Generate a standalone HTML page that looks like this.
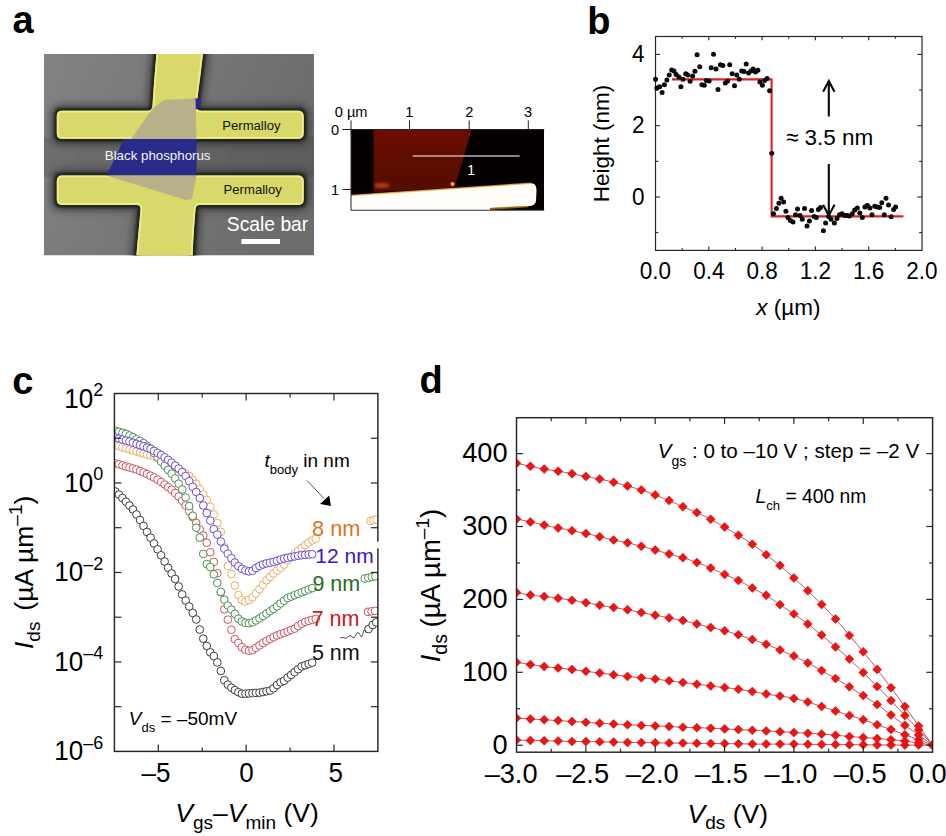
<!DOCTYPE html>
<html><head><meta charset="utf-8"><style>
html,body{margin:0;padding:0;background:#fff;width:946px;height:836px;overflow:hidden}
svg{display:block;font-family:"Liberation Sans", sans-serif}
</style></head><body>
<svg width="946" height="836" viewBox="0 0 946 836">
<rect width="946" height="836" fill="#fff"/>
<text x="12.50" y="33.00" font-size="38" text-anchor="start" fill="#000" font-weight="bold" >a</text>
<text x="587.30" y="33.50" font-size="38" text-anchor="start" fill="#000" font-weight="bold" >b</text>
<text x="12.30" y="393.50" font-size="38" text-anchor="start" fill="#000" font-weight="bold" >c</text>
<text x="419.50" y="393.20" font-size="38" text-anchor="start" fill="#000" font-weight="bold" >d</text>
<g id="sem">
<defs><clipPath id="semclip"><rect x="44" y="54" width="270" height="201.5"/></clipPath><filter id="soft" x="-5%" y="-5%" width="110%" height="110%"><feGaussianBlur stdDeviation="0.7"/></filter><filter id="soft2" x="-5%" y="-5%" width="110%" height="110%"><feGaussianBlur stdDeviation="1.6"/></filter><linearGradient id="bgg" x1="0" y1="0" x2="1" y2="0.3"><stop offset="0" stop-color="#838383"/><stop offset="1" stop-color="#6c6c6c"/></linearGradient></defs>
<g clip-path="url(#semclip)">
<rect x="44" y="54" width="270" height="201.5" fill="url(#bgg)"/>
<linearGradient id="gapg" x1="0" y1="0" x2="1" y2="0"><stop offset="0" stop-color="#6e6e6e"/><stop offset="0.5" stop-color="#646464"/><stop offset="1" stop-color="#5c5c5c"/></linearGradient>
<rect x="40" y="137" width="280" height="40" fill="url(#gapg)" filter="url(#soft2)"/>
<clipPath id="elclip"><path d="M157,48 L203.5,48 C201.5,70 198,92 196.5,107 Q197,110.8 201,110.8 L298,110.8 Q303.7,110.8 303.7,116.5 L303.7,133 Q303.7,138.8 298,138.8 L62,138.8 Q56.8,138.8 56.8,133.5 L56.8,116 Q56.8,110.8 62,110.8 L148,110.8 Q152,110.8 152.5,106 C153.5,90 155,70 157,48 Z"/><path d="M62,175.5 L298,175.5 Q303.7,175.5 303.7,181 L303.7,199.5 Q303.7,204.9 298,204.9 L199,204.9 Q196,204.9 195.5,209 C194,228 193,242 192.5,262 L136,262 C137.5,242 139,228 140.5,210 Q141,204.9 137,204.9 L62,204.9 Q56.8,204.9 56.8,199.5 L56.8,181 Q56.8,175.5 62,175.5 Z"/></clipPath>
<filter id="haloF" x="-10%" y="-10%" width="120%" height="120%"><feGaussianBlur stdDeviation="1.0"/></filter>
<filter id="haloW" x="-10%" y="-10%" width="120%" height="120%"><feGaussianBlur stdDeviation="3"/></filter>
<g filter="url(#haloW)" fill="none" stroke="#303030" stroke-width="14" stroke-linejoin="round" opacity="0.55">
<path d="M157,48 L203.5,48 C201.5,70 198,92 196.5,107 Q197,110.8 201,110.8 L298,110.8 Q303.7,110.8 303.7,116.5 L303.7,133 Q303.7,138.8 298,138.8 L62,138.8 Q56.8,138.8 56.8,133.5 L56.8,116 Q56.8,110.8 62,110.8 L148,110.8 Q152,110.8 152.5,106 C153.5,90 155,70 157,48 Z"/><path d="M62,175.5 L298,175.5 Q303.7,175.5 303.7,181 L303.7,199.5 Q303.7,204.9 298,204.9 L199,204.9 Q196,204.9 195.5,209 C194,228 193,242 192.5,262 L136,262 C137.5,242 139,228 140.5,210 Q141,204.9 137,204.9 L62,204.9 Q56.8,204.9 56.8,199.5 L56.8,181 Q56.8,175.5 62,175.5 Z"/>
</g>
<g filter="url(#haloF)" fill="none" stroke="#242424" stroke-width="6" stroke-linejoin="round">
<path d="M157,48 L203.5,48 C201.5,70 198,92 196.5,107 Q197,110.8 201,110.8 L298,110.8 Q303.7,110.8 303.7,116.5 L303.7,133 Q303.7,138.8 298,138.8 L62,138.8 Q56.8,138.8 56.8,133.5 L56.8,116 Q56.8,110.8 62,110.8 L148,110.8 Q152,110.8 152.5,106 C153.5,90 155,70 157,48 Z"/><path d="M62,175.5 L298,175.5 Q303.7,175.5 303.7,181 L303.7,199.5 Q303.7,204.9 298,204.9 L199,204.9 Q196,204.9 195.5,209 C194,228 193,242 192.5,262 L136,262 C137.5,242 139,228 140.5,210 Q141,204.9 137,204.9 L62,204.9 Q56.8,204.9 56.8,199.5 L56.8,181 Q56.8,175.5 62,175.5 Z"/>
</g>
<g filter="url(#soft)">
<path d="M157,48 L203.5,48 C201.5,70 198,92 196.5,107 Q197,110.8 201,110.8 L298,110.8 Q303.7,110.8 303.7,116.5 L303.7,133 Q303.7,138.8 298,138.8 L62,138.8 Q56.8,138.8 56.8,133.5 L56.8,116 Q56.8,110.8 62,110.8 L148,110.8 Q152,110.8 152.5,106 C153.5,90 155,70 157,48 Z" fill="#d9d86a"/>
<path d="M62,175.5 L298,175.5 Q303.7,175.5 303.7,181 L303.7,199.5 Q303.7,204.9 298,204.9 L199,204.9 Q196,204.9 195.5,209 C194,228 193,242 192.5,262 L136,262 C137.5,242 139,228 140.5,210 Q141,204.9 137,204.9 L62,204.9 Q56.8,204.9 56.8,199.5 L56.8,181 Q56.8,175.5 62,175.5 Z" fill="#d9d86a"/>
<g clip-path="url(#elclip)" fill="none" stroke="#f0ee88" stroke-width="3.6"><path d="M157,48 L203.5,48 C201.5,70 198,92 196.5,107 Q197,110.8 201,110.8 L298,110.8 Q303.7,110.8 303.7,116.5 L303.7,133 Q303.7,138.8 298,138.8 L62,138.8 Q56.8,138.8 56.8,133.5 L56.8,116 Q56.8,110.8 62,110.8 L148,110.8 Q152,110.8 152.5,106 C153.5,90 155,70 157,48 Z"/><path d="M62,175.5 L298,175.5 Q303.7,175.5 303.7,181 L303.7,199.5 Q303.7,204.9 298,204.9 L199,204.9 Q196,204.9 195.5,209 C194,228 193,242 192.5,262 L136,262 C137.5,242 139,228 140.5,210 Q141,204.9 137,204.9 L62,204.9 Q56.8,204.9 56.8,199.5 L56.8,181 Q56.8,175.5 62,175.5 Z"/></g>
</g>
<g filter="url(#soft)">
<path d="M124,139 L196.5,139 L196.5,175.5 L106.5,175.5 Z" fill="#2b2b8a"/>
<path d="M193.5,98.5 L201,98.5 L200,107 L195.5,110 Z" fill="#2b2b8a"/>
<path d="M164,100 L195.5,98.5 L196.5,139 L131,139 L153,108 Z" fill="#b9b18a"/>
<path d="M106.5,175.5 L196.5,175.5 L192,199 L186,200 Z" fill="#b9b18a"/>
</g>
</g>
<text x="222.30" y="129.80" font-size="13.1" text-anchor="start" fill="#111" >Permalloy</text>
<text x="223.60" y="194.30" font-size="13.1" text-anchor="start" fill="#111" >Permalloy</text>
<text x="104.80" y="160.20" font-size="13.3" text-anchor="start" fill="#f4f4f4" >Black phosphorus</text>
<text x="226.80" y="230.90" font-size="19.3" text-anchor="start" fill="#ffffff" >Scale bar</text>
<rect x="241.4" y="239" width="38.6" height="5" fill="#ffffff"/>
</g>
<g id="afm">
<defs><clipPath id="afmclip"><rect x="351" y="129.5" width="193" height="80.5"/></clipPath><linearGradient id="redg" x1="0" y1="0" x2="0" y2="1"><stop offset="0" stop-color="#6c0e04"/><stop offset="1" stop-color="#520802"/></linearGradient></defs>
<g clip-path="url(#afmclip)">
<rect x="351" y="129.5" width="193" height="80.5" fill="#050000"/>
<path d="M373.5,129.5 L471.5,129.5 C466,150 459,172 455,187.5 L373.5,192.5 Z" fill="url(#redg)" filter="url(#soft)"/>
<ellipse cx="382" cy="185.5" rx="8" ry="2.8" fill="#d8481a" opacity="0.75" filter="url(#soft2)"/>
<circle cx="452.5" cy="184" r="2" fill="#f0b030" filter="url(#soft)"/>
<path d="M349,195.6 L531,183.2 Q536.5,183 536.5,190 L536,201 Q535.5,206 528,206.3 L490,208 L490,212 L349,212 Z" fill="#fffdf8" filter="url(#soft)"/>
<path d="M351,195.6 L531,183.2" stroke="#f0b040" stroke-width="1.5" fill="none" opacity="0.8" filter="url(#soft)"/>
<path d="M490,209 L528,206.3" stroke="#e08020" stroke-width="2" fill="none" opacity="0.7" filter="url(#soft)"/>
</g>
<line x1="351.00" y1="129.50" x2="351.00" y2="210.20" stroke="#333" stroke-width="1.1" />
<line x1="351.00" y1="210.20" x2="544.30" y2="210.20" stroke="#333" stroke-width="1.1" />
<line x1="351.00" y1="129.50" x2="544.30" y2="129.50" stroke="#222" stroke-width="1.0" />
<line x1="412.60" y1="156.00" x2="519.60" y2="156.00" stroke="#b8b0b0" stroke-width="1.6" />
<text x="467.30" y="175.30" font-size="14" text-anchor="start" fill="#ffffff" >1</text>
<line x1="351.00" y1="120.50" x2="351.00" y2="129.50" stroke="#222" stroke-width="1.0" />
<line x1="409.50" y1="120.50" x2="409.50" y2="129.50" stroke="#222" stroke-width="1.0" />
<line x1="469.20" y1="120.50" x2="469.20" y2="129.50" stroke="#222" stroke-width="1.0" />
<line x1="528.30" y1="120.50" x2="528.30" y2="129.50" stroke="#222" stroke-width="1.0" />
<line x1="342.30" y1="129.50" x2="351.00" y2="129.50" stroke="#222" stroke-width="1.0" />
<line x1="342.30" y1="189.50" x2="351.00" y2="189.50" stroke="#222" stroke-width="1.0" />
<text x="334.80" y="117.50" font-size="14.6" text-anchor="start" fill="#000" transform="matrix(1 0 0 1.05 0 -5.875)" >0 µm</text>
<text x="409.30" y="117.50" font-size="14.6" text-anchor="middle" fill="#000" transform="matrix(1 0 0 1.05 0 -5.875)" >1</text>
<text x="469.20" y="117.50" font-size="14.6" text-anchor="middle" fill="#000" transform="matrix(1 0 0 1.05 0 -5.875)" >2</text>
<text x="528.00" y="117.50" font-size="14.6" text-anchor="middle" fill="#000" transform="matrix(1 0 0 1.05 0 -5.875)" >3</text>
<text x="339.20" y="135.20" font-size="14.6" text-anchor="end" fill="#000" transform="matrix(1 0 0 1.05 0 -6.760)" >0</text>
<text x="339.20" y="194.60" font-size="14.6" text-anchor="end" fill="#000" transform="matrix(1 0 0 1.05 0 -9.730)" >1</text>
</g>
<g id="pb">
<rect x="655.5" y="36.5" width="266.5" height="213.9" fill="none" stroke="#262626" stroke-width="1.2"/>
<line x1="682.15" y1="250.40" x2="682.15" y2="248.10" stroke="#262626" stroke-width="1.1" />
<line x1="682.15" y1="36.50" x2="682.15" y2="38.80" stroke="#262626" stroke-width="1.1" />
<line x1="708.80" y1="250.40" x2="708.80" y2="246.60" stroke="#262626" stroke-width="1.1" />
<line x1="708.80" y1="36.50" x2="708.80" y2="40.30" stroke="#262626" stroke-width="1.1" />
<line x1="735.45" y1="250.40" x2="735.45" y2="248.10" stroke="#262626" stroke-width="1.1" />
<line x1="735.45" y1="36.50" x2="735.45" y2="38.80" stroke="#262626" stroke-width="1.1" />
<line x1="762.10" y1="250.40" x2="762.10" y2="246.60" stroke="#262626" stroke-width="1.1" />
<line x1="762.10" y1="36.50" x2="762.10" y2="40.30" stroke="#262626" stroke-width="1.1" />
<line x1="788.75" y1="250.40" x2="788.75" y2="248.10" stroke="#262626" stroke-width="1.1" />
<line x1="788.75" y1="36.50" x2="788.75" y2="38.80" stroke="#262626" stroke-width="1.1" />
<line x1="815.40" y1="250.40" x2="815.40" y2="246.60" stroke="#262626" stroke-width="1.1" />
<line x1="815.40" y1="36.50" x2="815.40" y2="40.30" stroke="#262626" stroke-width="1.1" />
<line x1="842.05" y1="250.40" x2="842.05" y2="248.10" stroke="#262626" stroke-width="1.1" />
<line x1="842.05" y1="36.50" x2="842.05" y2="38.80" stroke="#262626" stroke-width="1.1" />
<line x1="868.70" y1="250.40" x2="868.70" y2="246.60" stroke="#262626" stroke-width="1.1" />
<line x1="868.70" y1="36.50" x2="868.70" y2="40.30" stroke="#262626" stroke-width="1.1" />
<line x1="895.35" y1="250.40" x2="895.35" y2="248.10" stroke="#262626" stroke-width="1.1" />
<line x1="895.35" y1="36.50" x2="895.35" y2="38.80" stroke="#262626" stroke-width="1.1" />
<line x1="655.50" y1="232.65" x2="658.40" y2="232.65" stroke="#262626" stroke-width="1.1" />
<line x1="922.00" y1="232.65" x2="919.10" y2="232.65" stroke="#262626" stroke-width="1.1" />
<line x1="655.50" y1="197.00" x2="660.10" y2="197.00" stroke="#262626" stroke-width="1.1" />
<line x1="922.00" y1="197.00" x2="917.40" y2="197.00" stroke="#262626" stroke-width="1.1" />
<line x1="655.50" y1="161.35" x2="658.40" y2="161.35" stroke="#262626" stroke-width="1.1" />
<line x1="922.00" y1="161.35" x2="919.10" y2="161.35" stroke="#262626" stroke-width="1.1" />
<line x1="655.50" y1="125.70" x2="660.10" y2="125.70" stroke="#262626" stroke-width="1.1" />
<line x1="922.00" y1="125.70" x2="917.40" y2="125.70" stroke="#262626" stroke-width="1.1" />
<line x1="655.50" y1="90.05" x2="658.40" y2="90.05" stroke="#262626" stroke-width="1.1" />
<line x1="922.00" y1="90.05" x2="919.10" y2="90.05" stroke="#262626" stroke-width="1.1" />
<line x1="655.50" y1="54.40" x2="660.10" y2="54.40" stroke="#262626" stroke-width="1.1" />
<line x1="922.00" y1="54.40" x2="917.40" y2="54.40" stroke="#262626" stroke-width="1.1" />
<text x="644.40" y="204.75" font-size="22.5" text-anchor="end" fill="#000" transform="matrix(1 0 0 1.045 0 -9.214)" >0</text>
<text x="644.40" y="133.45" font-size="22.5" text-anchor="end" fill="#000" transform="matrix(1 0 0 1.045 0 -6.005)" >2</text>
<text x="644.40" y="62.15" font-size="22.5" text-anchor="end" fill="#000" transform="matrix(1 0 0 1.045 0 -2.797)" >4</text>
<text x="655.50" y="279.30" font-size="22.5" text-anchor="middle" fill="#000" transform="matrix(1 0 0 1.045 0 -12.568)" >0.0</text>
<text x="708.80" y="279.30" font-size="22.5" text-anchor="middle" fill="#000" transform="matrix(1 0 0 1.045 0 -12.568)" >0.4</text>
<text x="762.10" y="279.30" font-size="22.5" text-anchor="middle" fill="#000" transform="matrix(1 0 0 1.045 0 -12.568)" >0.8</text>
<text x="815.40" y="279.30" font-size="22.5" text-anchor="middle" fill="#000" transform="matrix(1 0 0 1.045 0 -12.568)" >1.2</text>
<text x="868.70" y="279.30" font-size="22.5" text-anchor="middle" fill="#000" transform="matrix(1 0 0 1.045 0 -12.568)" >1.6</text>
<text x="922.00" y="279.30" font-size="22.5" text-anchor="middle" fill="#000" transform="matrix(1 0 0 1.045 0 -12.568)" >2.0</text>
<text x="788.40" y="315.10" font-size="22.5" text-anchor="middle" fill="#000" ><tspan font-style="italic">x</tspan> (µm)</text>
<text transform="translate(608.7,143.6) rotate(-90)" x="0" y="0" font-size="22.5" text-anchor="middle">Height (nm)</text>
<path d="M672,79.4 L771.6,79.4 L771.6,216.4 L903.4,216.4" fill="none" stroke="#e2201f" stroke-width="2.1"/>
<g fill="#0a0a0a">
<circle cx="655.5" cy="79.2" r="2.5"/>
<circle cx="656.9" cy="88.1" r="2.5"/>
<circle cx="659.6" cy="86.7" r="2.5"/>
<circle cx="662.1" cy="92.5" r="2.5"/>
<circle cx="664.4" cy="84.7" r="2.5"/>
<circle cx="666.9" cy="79.9" r="2.5"/>
<circle cx="669.2" cy="75" r="2.5"/>
<circle cx="671.7" cy="70" r="2.5"/>
<circle cx="674" cy="70.9" r="2.5"/>
<circle cx="676.1" cy="74.4" r="2.5"/>
<circle cx="678.9" cy="77.1" r="2.5"/>
<circle cx="680.9" cy="86.7" r="2.5"/>
<circle cx="683" cy="79.2" r="2.5"/>
<circle cx="685.7" cy="73.7" r="2.5"/>
<circle cx="687.8" cy="75" r="2.5"/>
<circle cx="690.1" cy="81.2" r="2.5"/>
<circle cx="692.6" cy="76" r="2.5"/>
<circle cx="694.9" cy="71.3" r="2.5"/>
<circle cx="697.1" cy="54.8" r="2.5"/>
<circle cx="699.7" cy="66.8" r="2.5"/>
<circle cx="701.9" cy="84.7" r="2.5"/>
<circle cx="704.3" cy="85.3" r="2.5"/>
<circle cx="706.3" cy="80.5" r="2.5"/>
<circle cx="709.1" cy="81" r="2.5"/>
<circle cx="711.2" cy="67.8" r="2.5"/>
<circle cx="713.5" cy="54.2" r="2.5"/>
<circle cx="716" cy="69.1" r="2.5"/>
<circle cx="718" cy="89.5" r="2.5"/>
<circle cx="720.4" cy="64.7" r="2.5"/>
<circle cx="722.8" cy="65.4" r="2.5"/>
<circle cx="725.3" cy="82.9" r="2.5"/>
<circle cx="727.6" cy="81" r="2.5"/>
<circle cx="729.7" cy="64.7" r="2.5"/>
<circle cx="732.2" cy="73.7" r="2.5"/>
<circle cx="734.5" cy="85.8" r="2.5"/>
<circle cx="736.8" cy="75" r="2.5"/>
<circle cx="739.3" cy="79.2" r="2.5"/>
<circle cx="741.7" cy="70.9" r="2.5"/>
<circle cx="744.1" cy="71.6" r="2.5"/>
<circle cx="746.2" cy="64" r="2.5"/>
<circle cx="748.5" cy="73" r="2.5"/>
<circle cx="751" cy="70.9" r="2.5"/>
<circle cx="753.1" cy="68.9" r="2.5"/>
<circle cx="755.5" cy="71.9" r="2.5"/>
<circle cx="757.9" cy="70.2" r="2.5"/>
<circle cx="759.9" cy="81.9" r="2.5"/>
<circle cx="762.4" cy="85.3" r="2.5"/>
<circle cx="764.7" cy="80.5" r="2.5"/>
<circle cx="767.1" cy="78.5" r="2.5"/>
<circle cx="769.6" cy="90.8" r="2.5"/>
<circle cx="771.7" cy="153.2" r="2.5"/>
<circle cx="773.5" cy="213.8" r="2.5"/>
<circle cx="776.4" cy="208.4" r="2.5"/>
<circle cx="778.9" cy="203.3" r="2.5"/>
<circle cx="781.1" cy="198.3" r="2.5"/>
<circle cx="783.7" cy="202" r="2.5"/>
<circle cx="785.9" cy="211.3" r="2.5"/>
<circle cx="787.9" cy="217.5" r="2.5"/>
<circle cx="790.4" cy="220.6" r="2.5"/>
<circle cx="793" cy="222" r="2.5"/>
<circle cx="795.5" cy="214.7" r="2.5"/>
<circle cx="797.5" cy="209.1" r="2.5"/>
<circle cx="800.1" cy="215.5" r="2.5"/>
<circle cx="802.3" cy="219.2" r="2.5"/>
<circle cx="804.5" cy="208.4" r="2.5"/>
<circle cx="807" cy="226" r="2.5"/>
<circle cx="809.4" cy="220.9" r="2.5"/>
<circle cx="811.6" cy="210.4" r="2.5"/>
<circle cx="814.1" cy="216.4" r="2.5"/>
<circle cx="816.3" cy="217.5" r="2.5"/>
<circle cx="818.4" cy="209.6" r="2.5"/>
<circle cx="820.5" cy="207.4" r="2.5"/>
<circle cx="823.4" cy="230.7" r="2.5"/>
<circle cx="825.6" cy="223.1" r="2.5"/>
<circle cx="828.5" cy="216.4" r="2.5"/>
<circle cx="831" cy="219.2" r="2.5"/>
<circle cx="834.4" cy="223.1" r="2.5"/>
<circle cx="837" cy="218.6" r="2.5"/>
<circle cx="839.5" cy="214.7" r="2.5"/>
<circle cx="842" cy="213.8" r="2.5"/>
<circle cx="844.6" cy="215.5" r="2.5"/>
<circle cx="847.1" cy="215.5" r="2.5"/>
<circle cx="849.6" cy="215.9" r="2.5"/>
<circle cx="852.2" cy="213.8" r="2.5"/>
<circle cx="854.7" cy="210.1" r="2.5"/>
<circle cx="857.3" cy="207.9" r="2.5"/>
<circle cx="859.8" cy="213" r="2.5"/>
<circle cx="862.3" cy="217.5" r="2.5"/>
<circle cx="864.9" cy="207.1" r="2.5"/>
<circle cx="867.4" cy="205.4" r="2.5"/>
<circle cx="869.9" cy="207.9" r="2.5"/>
<circle cx="872" cy="214.7" r="2.5"/>
<circle cx="874.7" cy="206.2" r="2.5"/>
<circle cx="877.2" cy="207.1" r="2.5"/>
<circle cx="879.7" cy="207.4" r="2.5"/>
<circle cx="881.8" cy="202.8" r="2.5"/>
<circle cx="884.3" cy="214.7" r="2.5"/>
<circle cx="886" cy="198.3" r="2.5"/>
<circle cx="888.5" cy="205" r="2.5"/>
<circle cx="891.1" cy="216.7" r="2.5"/>
<circle cx="893.6" cy="209.6" r="2.5"/>
<circle cx="895.6" cy="207.1" r="2.5"/>
</g>
<g stroke="#0a0a0a" stroke-width="2.1" fill="none" stroke-linecap="butt">
<path d="M828.8,116.6 L828.8,81.5 M823.1,91.8 L828.8,81 L834.5,91.8"/>
<path d="M828.8,164 L828.8,215 M823.1,204.8 L828.8,215.5 L834.5,204.8"/>
</g>
<text x="785.90" y="145.40" font-size="22.5" text-anchor="start" fill="#000" >≈ 3.5 nm</text>
</g>
<g id="pc">
<defs><clipPath id="cclip"><rect x="114.4" y="393.5" width="263.5" height="357.9"/></clipPath></defs>
<g clip-path="url(#cclip)">
<g fill="#fff" stroke="#eaae62" stroke-width="1.0" opacity="1">
<circle cx="115.40" cy="445.00" r="3.85"/>
<circle cx="118.91" cy="446.02" r="3.85"/>
<circle cx="122.43" cy="447.18" r="3.85"/>
<circle cx="125.94" cy="448.34" r="3.85"/>
<circle cx="129.46" cy="449.49" r="3.85"/>
<circle cx="132.97" cy="450.56" r="3.85"/>
<circle cx="136.48" cy="451.57" r="3.85"/>
<circle cx="140.00" cy="452.57" r="3.85"/>
<circle cx="143.51" cy="453.57" r="3.85"/>
<circle cx="147.03" cy="454.51" r="3.85"/>
<circle cx="150.54" cy="455.38" r="3.85"/>
<circle cx="154.05" cy="456.26" r="3.85"/>
<circle cx="157.57" cy="457.26" r="3.85"/>
<circle cx="161.08" cy="458.29" r="3.85"/>
<circle cx="164.60" cy="459.97" r="3.85"/>
<circle cx="168.11" cy="461.82" r="3.85"/>
<circle cx="171.62" cy="464.12" r="3.85"/>
<circle cx="175.14" cy="466.68" r="3.85"/>
<circle cx="178.65" cy="469.25" r="3.85"/>
<circle cx="182.17" cy="471.44" r="3.85"/>
<circle cx="185.68" cy="473.59" r="3.85"/>
<circle cx="189.19" cy="475.95" r="3.85"/>
<circle cx="192.71" cy="479.95" r="3.85"/>
<circle cx="196.22" cy="483.96" r="3.85"/>
<circle cx="199.74" cy="489.16" r="3.85"/>
<circle cx="203.25" cy="494.54" r="3.85"/>
<circle cx="206.76" cy="499.97" r="3.85"/>
<circle cx="210.28" cy="506.64" r="3.85"/>
<circle cx="213.79" cy="514.53" r="3.85"/>
<circle cx="217.31" cy="523.02" r="3.85"/>
<circle cx="220.82" cy="531.80" r="3.85"/>
<circle cx="224.33" cy="547.12" r="3.85"/>
<circle cx="227.85" cy="566.00" r="3.85"/>
<circle cx="231.36" cy="574.15" r="3.85"/>
<circle cx="234.88" cy="585.52" r="3.85"/>
<circle cx="238.39" cy="595.13" r="3.85"/>
<circle cx="241.90" cy="600.16" r="3.85"/>
<circle cx="245.42" cy="601.52" r="3.85"/>
<circle cx="248.93" cy="599.99" r="3.85"/>
<circle cx="252.45" cy="597.29" r="3.85"/>
<circle cx="255.96" cy="593.53" r="3.85"/>
<circle cx="259.47" cy="589.10" r="3.85"/>
<circle cx="262.99" cy="584.66" r="3.85"/>
<circle cx="266.50" cy="580.31" r="3.85"/>
<circle cx="270.02" cy="576.88" r="3.85"/>
<circle cx="273.53" cy="573.37" r="3.85"/>
<circle cx="277.04" cy="570.45" r="3.85"/>
<circle cx="280.56" cy="567.63" r="3.85"/>
<circle cx="284.07" cy="564.60" r="3.85"/>
<circle cx="287.59" cy="560.32" r="3.85"/>
<circle cx="291.10" cy="557.14" r="3.85"/>
<circle cx="294.61" cy="553.96" r="3.85"/>
<circle cx="298.13" cy="550.78" r="3.85"/>
<circle cx="301.64" cy="547.84" r="3.85"/>
<circle cx="305.16" cy="545.20" r="3.85"/>
<circle cx="308.67" cy="542.55" r="3.85"/>
<circle cx="312.18" cy="540.42" r="3.85"/>
<circle cx="315.70" cy="538.69" r="3.85"/>
</g>
<g fill="#fff" stroke="#d05060" stroke-width="1.0" opacity="1">
<circle cx="115.40" cy="463.50" r="3.85"/>
<circle cx="118.91" cy="464.30" r="3.85"/>
<circle cx="122.43" cy="465.38" r="3.85"/>
<circle cx="125.94" cy="466.46" r="3.85"/>
<circle cx="129.46" cy="467.46" r="3.85"/>
<circle cx="132.97" cy="468.44" r="3.85"/>
<circle cx="136.48" cy="469.44" r="3.85"/>
<circle cx="140.00" cy="470.95" r="3.85"/>
<circle cx="143.51" cy="472.46" r="3.85"/>
<circle cx="147.03" cy="474.01" r="3.85"/>
<circle cx="150.54" cy="475.75" r="3.85"/>
<circle cx="154.05" cy="477.48" r="3.85"/>
<circle cx="157.57" cy="479.66" r="3.85"/>
<circle cx="161.08" cy="482.03" r="3.85"/>
<circle cx="164.60" cy="484.47" r="3.85"/>
<circle cx="168.11" cy="487.08" r="3.85"/>
<circle cx="171.62" cy="489.70" r="3.85"/>
<circle cx="175.14" cy="493.04" r="3.85"/>
<circle cx="178.65" cy="496.55" r="3.85"/>
<circle cx="182.17" cy="500.77" r="3.85"/>
<circle cx="185.68" cy="505.40" r="3.85"/>
<circle cx="189.19" cy="511.29" r="3.85"/>
<circle cx="192.71" cy="517.10" r="3.85"/>
<circle cx="196.22" cy="522.96" r="3.85"/>
<circle cx="199.74" cy="529.37" r="3.85"/>
<circle cx="203.25" cy="535.58" r="3.85"/>
<circle cx="206.76" cy="542.76" r="3.85"/>
<circle cx="210.28" cy="552.22" r="3.85"/>
<circle cx="213.79" cy="561.86" r="3.85"/>
<circle cx="217.31" cy="573.16" r="3.85"/>
<circle cx="220.82" cy="592.21" r="3.85"/>
<circle cx="224.33" cy="609.29" r="3.85"/>
<circle cx="227.85" cy="619.62" r="3.85"/>
<circle cx="231.36" cy="629.76" r="3.85"/>
<circle cx="234.88" cy="639.10" r="3.85"/>
<circle cx="238.39" cy="642.99" r="3.85"/>
<circle cx="241.90" cy="647.20" r="3.85"/>
<circle cx="245.42" cy="649.80" r="3.85"/>
<circle cx="248.93" cy="650.76" r="3.85"/>
<circle cx="252.45" cy="650.11" r="3.85"/>
<circle cx="255.96" cy="647.85" r="3.85"/>
<circle cx="259.47" cy="645.42" r="3.85"/>
<circle cx="262.99" cy="643.07" r="3.85"/>
<circle cx="266.50" cy="640.92" r="3.85"/>
<circle cx="270.02" cy="638.99" r="3.85"/>
<circle cx="273.53" cy="637.16" r="3.85"/>
<circle cx="277.04" cy="635.50" r="3.85"/>
<circle cx="280.56" cy="634.10" r="3.85"/>
<circle cx="284.07" cy="632.89" r="3.85"/>
<circle cx="287.59" cy="631.51" r="3.85"/>
<circle cx="291.10" cy="629.96" r="3.85"/>
<circle cx="294.61" cy="628.64" r="3.85"/>
<circle cx="298.13" cy="626.05" r="3.85"/>
<circle cx="301.64" cy="623.71" r="3.85"/>
<circle cx="305.16" cy="621.95" r="3.85"/>
<circle cx="308.67" cy="620.90" r="3.85"/>
<circle cx="312.18" cy="619.87" r="3.85"/>
<circle cx="315.70" cy="619.00" r="3.85"/>
</g>
<g fill="#fff" stroke="#4a8f52" stroke-width="1.0" opacity="1">
<circle cx="115.40" cy="430.82" r="3.85"/>
<circle cx="118.91" cy="431.83" r="3.85"/>
<circle cx="122.43" cy="432.85" r="3.85"/>
<circle cx="125.94" cy="433.87" r="3.85"/>
<circle cx="129.46" cy="435.51" r="3.85"/>
<circle cx="132.97" cy="437.24" r="3.85"/>
<circle cx="136.48" cy="439.08" r="3.85"/>
<circle cx="140.00" cy="440.94" r="3.85"/>
<circle cx="143.51" cy="443.13" r="3.85"/>
<circle cx="147.03" cy="445.77" r="3.85"/>
<circle cx="150.54" cy="448.68" r="3.85"/>
<circle cx="154.05" cy="453.13" r="3.85"/>
<circle cx="157.57" cy="457.58" r="3.85"/>
<circle cx="161.08" cy="461.73" r="3.85"/>
<circle cx="164.60" cy="465.86" r="3.85"/>
<circle cx="168.11" cy="469.82" r="3.85"/>
<circle cx="171.62" cy="473.75" r="3.85"/>
<circle cx="175.14" cy="478.42" r="3.85"/>
<circle cx="178.65" cy="483.70" r="3.85"/>
<circle cx="182.17" cy="489.45" r="3.85"/>
<circle cx="185.68" cy="497.53" r="3.85"/>
<circle cx="189.19" cy="506.04" r="3.85"/>
<circle cx="192.71" cy="515.85" r="3.85"/>
<circle cx="196.22" cy="527.75" r="3.85"/>
<circle cx="199.74" cy="537.72" r="3.85"/>
<circle cx="203.25" cy="553.88" r="3.85"/>
<circle cx="206.76" cy="564.05" r="3.85"/>
<circle cx="210.28" cy="567.05" r="3.85"/>
<circle cx="213.79" cy="574.34" r="3.85"/>
<circle cx="217.31" cy="583.03" r="3.85"/>
<circle cx="220.82" cy="591.85" r="3.85"/>
<circle cx="224.33" cy="599.75" r="3.85"/>
<circle cx="227.85" cy="605.45" r="3.85"/>
<circle cx="231.36" cy="609.64" r="3.85"/>
<circle cx="234.88" cy="613.84" r="3.85"/>
<circle cx="238.39" cy="618.75" r="3.85"/>
<circle cx="241.90" cy="621.45" r="3.85"/>
<circle cx="245.42" cy="622.94" r="3.85"/>
<circle cx="248.93" cy="623.27" r="3.85"/>
<circle cx="252.45" cy="622.30" r="3.85"/>
<circle cx="255.96" cy="620.46" r="3.85"/>
<circle cx="259.47" cy="618.40" r="3.85"/>
<circle cx="262.99" cy="616.00" r="3.85"/>
<circle cx="266.50" cy="613.62" r="3.85"/>
<circle cx="270.02" cy="611.26" r="3.85"/>
<circle cx="273.53" cy="608.91" r="3.85"/>
<circle cx="277.04" cy="606.37" r="3.85"/>
<circle cx="280.56" cy="603.46" r="3.85"/>
<circle cx="284.07" cy="600.70" r="3.85"/>
<circle cx="287.59" cy="598.01" r="3.85"/>
<circle cx="291.10" cy="596.60" r="3.85"/>
<circle cx="294.61" cy="595.19" r="3.85"/>
<circle cx="298.13" cy="593.79" r="3.85"/>
<circle cx="301.64" cy="592.38" r="3.85"/>
<circle cx="305.16" cy="590.95" r="3.85"/>
<circle cx="308.67" cy="589.53" r="3.85"/>
<circle cx="312.18" cy="588.11" r="3.85"/>
</g>
<g fill="#fff" stroke="#6a4ed6" stroke-width="1.0" opacity="1">
<circle cx="115.40" cy="437.70" r="3.85"/>
<circle cx="118.91" cy="438.58" r="3.85"/>
<circle cx="122.43" cy="439.58" r="3.85"/>
<circle cx="125.94" cy="440.57" r="3.85"/>
<circle cx="129.46" cy="441.56" r="3.85"/>
<circle cx="132.97" cy="442.68" r="3.85"/>
<circle cx="136.48" cy="443.90" r="3.85"/>
<circle cx="140.00" cy="445.12" r="3.85"/>
<circle cx="143.51" cy="446.34" r="3.85"/>
<circle cx="147.03" cy="447.56" r="3.85"/>
<circle cx="150.54" cy="448.84" r="3.85"/>
<circle cx="154.05" cy="450.89" r="3.85"/>
<circle cx="157.57" cy="452.93" r="3.85"/>
<circle cx="161.08" cy="454.98" r="3.85"/>
<circle cx="164.60" cy="457.39" r="3.85"/>
<circle cx="168.11" cy="459.88" r="3.85"/>
<circle cx="171.62" cy="462.65" r="3.85"/>
<circle cx="175.14" cy="465.58" r="3.85"/>
<circle cx="178.65" cy="468.51" r="3.85"/>
<circle cx="182.17" cy="472.22" r="3.85"/>
<circle cx="185.68" cy="476.01" r="3.85"/>
<circle cx="189.19" cy="481.20" r="3.85"/>
<circle cx="192.71" cy="486.88" r="3.85"/>
<circle cx="196.22" cy="491.99" r="3.85"/>
<circle cx="199.74" cy="498.07" r="3.85"/>
<circle cx="203.25" cy="505.43" r="3.85"/>
<circle cx="206.76" cy="513.01" r="3.85"/>
<circle cx="210.28" cy="520.64" r="3.85"/>
<circle cx="213.79" cy="529.06" r="3.85"/>
<circle cx="217.31" cy="534.52" r="3.85"/>
<circle cx="220.82" cy="541.47" r="3.85"/>
<circle cx="224.33" cy="548.69" r="3.85"/>
<circle cx="227.85" cy="553.62" r="3.85"/>
<circle cx="231.36" cy="558.21" r="3.85"/>
<circle cx="234.88" cy="562.60" r="3.85"/>
<circle cx="238.39" cy="566.19" r="3.85"/>
<circle cx="241.90" cy="568.78" r="3.85"/>
<circle cx="245.42" cy="570.43" r="3.85"/>
<circle cx="248.93" cy="571.37" r="3.85"/>
<circle cx="252.45" cy="570.78" r="3.85"/>
<circle cx="255.96" cy="568.04" r="3.85"/>
<circle cx="259.47" cy="565.92" r="3.85"/>
<circle cx="262.99" cy="564.47" r="3.85"/>
<circle cx="266.50" cy="563.35" r="3.85"/>
<circle cx="270.02" cy="562.74" r="3.85"/>
<circle cx="273.53" cy="561.89" r="3.85"/>
<circle cx="277.04" cy="560.72" r="3.85"/>
<circle cx="280.56" cy="559.56" r="3.85"/>
<circle cx="284.07" cy="558.49" r="3.85"/>
<circle cx="287.59" cy="557.80" r="3.85"/>
<circle cx="291.10" cy="557.10" r="3.85"/>
<circle cx="294.61" cy="556.40" r="3.85"/>
<circle cx="298.13" cy="555.69" r="3.85"/>
<circle cx="301.64" cy="555.15" r="3.85"/>
<circle cx="305.16" cy="554.82" r="3.85"/>
<circle cx="308.67" cy="554.49" r="3.85"/>
<circle cx="312.18" cy="554.16" r="3.85"/>
</g>
<g fill="#fff" stroke="#3c3c3c" stroke-width="1.0" opacity="1">
<circle cx="115.40" cy="491.50" r="3.85"/>
<circle cx="118.91" cy="494.58" r="3.85"/>
<circle cx="122.43" cy="498.05" r="3.85"/>
<circle cx="125.94" cy="501.70" r="3.85"/>
<circle cx="129.46" cy="505.58" r="3.85"/>
<circle cx="132.97" cy="509.46" r="3.85"/>
<circle cx="136.48" cy="514.49" r="3.85"/>
<circle cx="140.00" cy="520.00" r="3.85"/>
<circle cx="143.51" cy="525.93" r="3.85"/>
<circle cx="147.03" cy="531.96" r="3.85"/>
<circle cx="150.54" cy="537.72" r="3.85"/>
<circle cx="154.05" cy="543.46" r="3.85"/>
<circle cx="157.57" cy="549.35" r="3.85"/>
<circle cx="161.08" cy="555.29" r="3.85"/>
<circle cx="164.60" cy="561.55" r="3.85"/>
<circle cx="168.11" cy="567.84" r="3.85"/>
<circle cx="171.62" cy="573.47" r="3.85"/>
<circle cx="175.14" cy="578.97" r="3.85"/>
<circle cx="178.65" cy="586.47" r="3.85"/>
<circle cx="182.17" cy="594.44" r="3.85"/>
<circle cx="185.68" cy="600.57" r="3.85"/>
<circle cx="189.19" cy="606.50" r="3.85"/>
<circle cx="192.71" cy="612.90" r="3.85"/>
<circle cx="196.22" cy="619.48" r="3.85"/>
<circle cx="199.74" cy="629.62" r="3.85"/>
<circle cx="203.25" cy="638.68" r="3.85"/>
<circle cx="206.76" cy="645.94" r="3.85"/>
<circle cx="210.28" cy="652.39" r="3.85"/>
<circle cx="213.79" cy="656.05" r="3.85"/>
<circle cx="217.31" cy="662.40" r="3.85"/>
<circle cx="220.82" cy="670.97" r="3.85"/>
<circle cx="224.33" cy="680.17" r="3.85"/>
<circle cx="227.85" cy="684.68" r="3.85"/>
<circle cx="231.36" cy="687.66" r="3.85"/>
<circle cx="234.88" cy="690.13" r="3.85"/>
<circle cx="238.39" cy="692.17" r="3.85"/>
<circle cx="241.90" cy="693.74" r="3.85"/>
<circle cx="245.42" cy="693.71" r="3.85"/>
<circle cx="248.93" cy="693.37" r="3.85"/>
<circle cx="252.45" cy="693.13" r="3.85"/>
<circle cx="255.96" cy="692.89" r="3.85"/>
<circle cx="259.47" cy="692.66" r="3.85"/>
<circle cx="262.99" cy="692.02" r="3.85"/>
<circle cx="266.50" cy="691.28" r="3.85"/>
<circle cx="270.02" cy="690.58" r="3.85"/>
<circle cx="273.53" cy="688.32" r="3.85"/>
<circle cx="277.04" cy="684.99" r="3.85"/>
<circle cx="280.56" cy="682.30" r="3.85"/>
<circle cx="284.07" cy="680.81" r="3.85"/>
<circle cx="287.59" cy="677.63" r="3.85"/>
<circle cx="291.10" cy="674.93" r="3.85"/>
<circle cx="294.61" cy="672.13" r="3.85"/>
<circle cx="298.13" cy="669.21" r="3.85"/>
<circle cx="301.64" cy="666.45" r="3.85"/>
<circle cx="305.16" cy="665.25" r="3.85"/>
<circle cx="308.67" cy="663.94" r="3.85"/>
<circle cx="312.18" cy="662.69" r="3.85"/>
</g>
<g fill="#fff" stroke="#eaae62" stroke-width="1.0">
<circle cx="370.5" cy="521" r="3.85"/>
<circle cx="373.5" cy="520.3" r="3.85"/>
<circle cx="376.5" cy="519.6" r="3.85"/>
</g>
<g fill="#fff" stroke="#4a8f52" stroke-width="1.0">
<circle cx="364.8" cy="578.5" r="3.85"/>
<circle cx="368.3" cy="577.8" r="3.85"/>
<circle cx="371.8" cy="577" r="3.85"/>
<circle cx="375.3" cy="576.3" r="3.85"/>
</g>
<g fill="#fff" stroke="#d05060" stroke-width="1.0">
<circle cx="368" cy="611.8" r="3.85"/>
<circle cx="371.5" cy="611.3" r="3.85"/>
<circle cx="375" cy="610.8" r="3.85"/>
</g>
<g fill="#fff" stroke="#3c3c3c" stroke-width="1.0">
<circle cx="368.6" cy="629" r="3.85"/>
<circle cx="372.6" cy="625" r="3.85"/>
<circle cx="376.2" cy="622.4" r="3.85"/>
</g>
<path d="M340,638.3 q2,-2 4,-0.5 t4,-1 t4,0 t4,-2 t4,0 t3,-1.5 t3,-0.8" fill="none" stroke="#222" stroke-width="0.8"/>
</g>
<rect x="114.4" y="393.5" width="263.5" height="357.9" fill="none" stroke="#262626" stroke-width="1.45"/>
<rect x="376.6" y="541.7" width="2.8" height="6.7" fill="#fff"/>
<line x1="158.30" y1="751.40" x2="158.30" y2="744.40" stroke="#262626" stroke-width="1.2" />
<line x1="158.30" y1="393.50" x2="158.30" y2="400.50" stroke="#262626" stroke-width="1.2" />
<line x1="202.23" y1="751.40" x2="202.23" y2="747.40" stroke="#262626" stroke-width="1.2" />
<line x1="202.23" y1="393.50" x2="202.23" y2="397.50" stroke="#262626" stroke-width="1.2" />
<line x1="246.15" y1="751.40" x2="246.15" y2="744.40" stroke="#262626" stroke-width="1.2" />
<line x1="246.15" y1="393.50" x2="246.15" y2="400.50" stroke="#262626" stroke-width="1.2" />
<line x1="290.07" y1="751.40" x2="290.07" y2="747.40" stroke="#262626" stroke-width="1.2" />
<line x1="290.07" y1="393.50" x2="290.07" y2="397.50" stroke="#262626" stroke-width="1.2" />
<line x1="334.00" y1="751.40" x2="334.00" y2="744.40" stroke="#262626" stroke-width="1.2" />
<line x1="334.00" y1="393.50" x2="334.00" y2="400.50" stroke="#262626" stroke-width="1.2" />
<line x1="114.40" y1="438.24" x2="121.40" y2="438.24" stroke="#262626" stroke-width="1.2" />
<line x1="377.90" y1="438.24" x2="370.90" y2="438.24" stroke="#262626" stroke-width="1.2" />
<line x1="114.40" y1="482.98" x2="121.40" y2="482.98" stroke="#262626" stroke-width="1.2" />
<line x1="377.90" y1="482.98" x2="370.90" y2="482.98" stroke="#262626" stroke-width="1.2" />
<line x1="114.40" y1="527.72" x2="121.40" y2="527.72" stroke="#262626" stroke-width="1.2" />
<line x1="377.90" y1="527.72" x2="370.90" y2="527.72" stroke="#262626" stroke-width="1.2" />
<line x1="114.40" y1="572.46" x2="121.40" y2="572.46" stroke="#262626" stroke-width="1.2" />
<line x1="377.90" y1="572.46" x2="370.90" y2="572.46" stroke="#262626" stroke-width="1.2" />
<line x1="114.40" y1="617.20" x2="121.40" y2="617.20" stroke="#262626" stroke-width="1.2" />
<line x1="377.90" y1="617.20" x2="370.90" y2="617.20" stroke="#262626" stroke-width="1.2" />
<line x1="114.40" y1="661.94" x2="121.40" y2="661.94" stroke="#262626" stroke-width="1.2" />
<line x1="377.90" y1="661.94" x2="370.90" y2="661.94" stroke="#262626" stroke-width="1.2" />
<line x1="114.40" y1="706.68" x2="121.40" y2="706.68" stroke="#262626" stroke-width="1.2" />
<line x1="377.90" y1="706.68" x2="370.90" y2="706.68" stroke="#262626" stroke-width="1.2" />
<text x="103.3" y="407.60" font-size="26" text-anchor="end" transform="matrix(1 0 0 1.04 0 -16.304)">10<tspan dy="-11.0" font-size="18">2</tspan></text>
<text x="103.3" y="491.78" font-size="26" text-anchor="end" transform="matrix(1 0 0 1.04 0 -19.671)">10<tspan dy="-11.0" font-size="18">0</tspan></text>
<text x="103.3" y="581.26" font-size="26" text-anchor="end" transform="matrix(1 0 0 1.04 0 -23.250)">10<tspan dy="-11.0" font-size="18">–2</tspan></text>
<text x="103.3" y="670.74" font-size="26" text-anchor="end" transform="matrix(1 0 0 1.04 0 -26.830)">10<tspan dy="-11.0" font-size="18">–4</tspan></text>
<text x="103.3" y="760.22" font-size="26" text-anchor="end" transform="matrix(1 0 0 1.04 0 -30.409)">10<tspan dy="-11.0" font-size="18">–6</tspan></text>
<text x="141.60" y="782.30" font-size="26" text-anchor="start" fill="#000" transform="matrix(1 0 0 1.04 0 -31.292)" >–5</text>
<text x="246.50" y="782.30" font-size="26" text-anchor="middle" fill="#000" transform="matrix(1 0 0 1.04 0 -31.292)" >0</text>
<text x="335.70" y="782.30" font-size="26" text-anchor="middle" fill="#000" transform="matrix(1 0 0 1.04 0 -31.292)" >5</text>
<text x="175.3" y="822.1" font-size="26.5"><tspan font-style="italic">V</tspan><tspan font-size="19" dy="7.1">gs</tspan><tspan dy="-7.1">–</tspan><tspan font-style="italic">V</tspan><tspan font-size="19" dy="7.1">min</tspan><tspan dy="-7.1"> (V)</tspan></text>
<text transform="translate(33,649) rotate(-90)" x="0" y="0" font-size="26.5"><tspan font-style="italic">I</tspan><tspan font-size="19" dy="7.1">ds</tspan><tspan dy="-7.1" dx="3.5"> (µA µm</tspan><tspan font-size="19" dy="-11">–1</tspan><tspan dy="11">)</tspan></text>
<text x="312.00" y="535.50" font-size="21.8" text-anchor="start" fill="#e07322" >8 nm</text>
<text x="315.30" y="562.60" font-size="21" text-anchor="start" fill="#3d14c8" >12 nm</text>
<text x="312.40" y="591.40" font-size="21.5" text-anchor="start" fill="#1f6e1c" >9 nm</text>
<text x="311.70" y="625.80" font-size="21.5" text-anchor="start" fill="#c8181c" >7 nm</text>
<text x="311.90" y="660.30" font-size="21.5" text-anchor="start" fill="#111111" >5 nm</text>
<text x="264.5" y="467.2" font-size="19"><tspan font-style="italic">t</tspan><tspan font-size="13" dy="6.9">body</tspan><tspan dy="-6.9"> in nm</tspan></text>
<line x1="307.00" y1="480.50" x2="324.00" y2="498.50" stroke="#444" stroke-width="0.9" />
<path d="M320,504 L329.2,495.4 L331,506 Z" fill="#000"/>
<text x="128.8" y="724.7" font-size="19"><tspan font-style="italic">V</tspan><tspan font-size="13" dy="6.8">ds</tspan><tspan dy="-6.8"> = –50mV</tspan></text>
</g>
<g id="pd">
<defs><clipPath id="dclip"><rect x="516.5" y="417.7" width="416.1" height="334.50000000000006"/></clipPath></defs>
<g clip-path="url(#dclip)">
<path d="M516.5,740.1 L518.2,740.1 L520.0,740.2 L521.7,740.2 L523.5,740.2 L525.2,740.3 L526.9,740.3 L528.7,740.4 L530.4,740.4 L532.2,740.4 L533.9,740.5 L535.7,740.5 L537.4,740.6 L539.1,740.6 L540.9,740.6 L542.6,740.7 L544.4,740.7 L546.1,740.7 L547.8,740.8 L549.6,740.8 L551.3,740.8 L553.1,740.9 L554.8,740.9 L556.5,741.0 L558.3,741.0 L560.0,741.1 L561.8,741.1 L563.5,741.2 L565.2,741.2 L567.0,741.3 L568.7,741.3 L570.5,741.4 L572.2,741.4 L574.0,741.4 L575.7,741.5 L577.4,741.5 L579.2,741.5 L580.9,741.5 L582.7,741.6 L584.4,741.6 L586.1,741.6 L587.9,741.6 L589.6,741.6 L591.4,741.7 L593.1,741.7 L594.8,741.7 L596.6,741.7 L598.3,741.8 L600.1,741.8 L601.8,741.8 L603.6,741.9 L605.3,741.9 L607.0,741.9 L608.8,742.0 L610.5,742.0 L612.3,742.1 L614.0,742.1 L615.7,742.2 L617.5,742.2 L619.2,742.2 L621.0,742.3 L622.7,742.3 L624.4,742.3 L626.2,742.4 L627.9,742.4 L629.7,742.4 L631.4,742.5 L633.1,742.5 L634.9,742.5 L636.6,742.5 L638.4,742.6 L640.1,742.6 L641.9,742.6 L643.6,742.6 L645.3,742.7 L647.1,742.7 L648.8,742.7 L650.6,742.7 L652.3,742.8 L654.0,742.8 L655.8,742.8 L657.5,742.8 L659.3,742.9 L661.0,742.9 L662.7,742.9 L664.5,742.9 L666.2,743.0 L668.0,743.0 L669.7,743.0 L671.4,743.0 L673.2,743.0 L674.9,743.0 L676.7,743.1 L678.4,743.1 L680.2,743.1 L681.9,743.1 L683.6,743.1 L685.4,743.1 L687.1,743.1 L688.9,743.2 L690.6,743.2 L692.3,743.2 L694.1,743.3 L695.8,743.3 L697.6,743.3 L699.3,743.3 L701.0,743.4 L702.8,743.4 L704.5,743.4 L706.3,743.4 L708.0,743.5 L709.8,743.5 L711.5,743.5 L713.2,743.5 L715.0,743.5 L716.7,743.5 L718.5,743.6 L720.2,743.6 L721.9,743.6 L723.7,743.6 L725.4,743.6 L727.2,743.6 L728.9,743.7 L730.6,743.7 L732.4,743.7 L734.1,743.7 L735.9,743.8 L737.6,743.8 L739.3,743.8 L741.1,743.8 L742.8,743.9 L744.6,743.9 L746.3,743.9 L748.1,743.9 L749.8,744.0 L751.5,744.0 L753.3,744.0 L755.0,744.0 L756.8,744.0 L758.5,744.1 L760.2,744.1 L762.0,744.1 L763.7,744.1 L765.5,744.1 L767.2,744.1 L768.9,744.1 L770.7,744.1 L772.4,744.1 L774.2,744.1 L775.9,744.1 L777.7,744.1 L779.4,744.1 L781.1,744.1 L782.9,744.1 L784.6,744.1 L786.4,744.1 L788.1,744.1 L789.8,744.1 L791.6,744.1 L793.3,744.1 L795.1,744.1 L796.8,744.1 L798.5,744.1 L800.3,744.2 L802.0,744.2 L803.8,744.2 L805.5,744.3 L807.2,744.3 L809.0,744.3 L810.7,744.3 L812.5,744.4 L814.2,744.4 L816.0,744.4 L817.7,744.5 L819.4,744.5 L821.2,744.5 L822.9,744.5 L824.7,744.5 L826.4,744.5 L828.1,744.6 L829.9,744.6 L831.6,744.6 L833.4,744.6 L835.1,744.6 L836.8,744.6 L838.6,744.6 L840.3,744.6 L842.1,744.6 L843.8,744.7 L845.5,744.7 L847.3,744.7 L849.0,744.7 L850.8,744.7 L852.5,744.7 L854.3,744.7 L856.0,744.7 L857.7,744.8 L859.5,744.8 L861.2,744.8 L863.0,744.8 L864.7,744.8 L866.4,744.8 L868.2,744.8 L869.9,744.8 L871.7,744.9 L873.4,744.9 L875.1,744.9 L876.9,744.9 L878.6,744.9 L880.4,744.9 L882.1,744.9 L883.9,744.9 L885.6,745.0 L887.3,745.0 L889.1,745.0 L890.8,745.0 L892.6,745.0 L894.3,745.0 L896.0,745.0 L897.8,745.1 L899.5,745.1 L901.3,745.1 L903.0,745.1 L904.7,745.1 L906.5,745.1 L908.2,745.1 L910.0,745.1 L911.7,745.1 L913.4,745.1 L915.2,745.1 L916.9,745.1 L918.7,745.1 L920.4,745.1 L922.2,745.1 L923.9,745.1 L925.6,745.1 L927.4,745.1 L929.1,745.1 L930.9,745.2 L932.6,745.2" fill="none" stroke="#b5384a" stroke-width="0.9"/>
<path d="M516.5,718.1 L518.2,718.2 L520.0,718.3 L521.7,718.4 L523.5,718.5 L525.2,718.6 L526.9,718.7 L528.7,718.8 L530.4,718.9 L532.2,719.0 L533.9,719.1 L535.7,719.2 L537.4,719.4 L539.1,719.5 L540.9,719.6 L542.6,719.7 L544.4,719.8 L546.1,719.9 L547.8,720.0 L549.6,720.1 L551.3,720.2 L553.1,720.3 L554.8,720.4 L556.5,720.5 L558.3,720.6 L560.0,720.7 L561.8,720.8 L563.5,720.9 L565.2,721.1 L567.0,721.2 L568.7,721.3 L570.5,721.4 L572.2,721.5 L574.0,721.6 L575.7,721.7 L577.4,721.8 L579.2,721.9 L580.9,722.0 L582.7,722.1 L584.4,722.2 L586.1,722.3 L587.9,722.4 L589.6,722.5 L591.4,722.7 L593.1,722.8 L594.8,722.9 L596.6,723.0 L598.3,723.1 L600.1,723.2 L601.8,723.3 L603.6,723.4 L605.3,723.5 L607.0,723.6 L608.8,723.7 L610.5,723.8 L612.3,723.9 L614.0,724.0 L615.7,724.1 L617.5,724.2 L619.2,724.3 L621.0,724.4 L622.7,724.5 L624.4,724.6 L626.2,724.7 L627.9,724.8 L629.7,724.9 L631.4,725.0 L633.1,725.1 L634.9,725.1 L636.6,725.2 L638.4,725.3 L640.1,725.4 L641.9,725.4 L643.6,725.5 L645.3,725.5 L647.1,725.6 L648.8,725.7 L650.6,725.7 L652.3,725.8 L654.0,725.9 L655.8,725.9 L657.5,726.0 L659.3,726.1 L661.0,726.1 L662.7,726.2 L664.5,726.3 L666.2,726.4 L668.0,726.4 L669.7,726.5 L671.4,726.6 L673.2,726.7 L674.9,726.8 L676.7,726.9 L678.4,727.0 L680.2,727.1 L681.9,727.2 L683.6,727.2 L685.4,727.3 L687.1,727.4 L688.9,727.4 L690.6,727.5 L692.3,727.6 L694.1,727.6 L695.8,727.7 L697.6,727.7 L699.3,727.8 L701.0,727.8 L702.8,727.9 L704.5,728.0 L706.3,728.0 L708.0,728.1 L709.8,728.2 L711.5,728.2 L713.2,728.3 L715.0,728.4 L716.7,728.5 L718.5,728.6 L720.2,728.7 L721.9,728.8 L723.7,728.9 L725.4,728.9 L727.2,729.0 L728.9,729.1 L730.6,729.2 L732.4,729.3 L734.1,729.4 L735.9,729.5 L737.6,729.6 L739.3,729.6 L741.1,729.7 L742.8,729.8 L744.6,729.9 L746.3,729.9 L748.1,730.0 L749.8,730.1 L751.5,730.2 L753.3,730.2 L755.0,730.3 L756.8,730.4 L758.5,730.5 L760.2,730.6 L762.0,730.7 L763.7,730.8 L765.5,730.9 L767.2,731.0 L768.9,731.1 L770.7,731.1 L772.4,731.2 L774.2,731.3 L775.9,731.4 L777.7,731.6 L779.4,731.7 L781.1,731.8 L782.9,731.9 L784.6,732.0 L786.4,732.1 L788.1,732.2 L789.8,732.3 L791.6,732.5 L793.3,732.6 L795.1,732.7 L796.8,732.8 L798.5,732.9 L800.3,732.9 L802.0,733.0 L803.8,733.1 L805.5,733.2 L807.2,733.3 L809.0,733.4 L810.7,733.4 L812.5,733.5 L814.2,733.6 L816.0,733.7 L817.7,733.8 L819.4,733.9 L821.2,734.0 L822.9,734.1 L824.7,734.2 L826.4,734.4 L828.1,734.5 L829.9,734.7 L831.6,734.8 L833.4,735.0 L835.1,735.2 L836.8,735.3 L838.6,735.5 L840.3,735.7 L842.1,735.8 L843.8,736.0 L845.5,736.2 L847.3,736.3 L849.0,736.5 L850.8,736.6 L852.5,736.7 L854.3,736.9 L856.0,737.0 L857.7,737.1 L859.5,737.2 L861.2,737.4 L863.0,737.5 L864.7,737.6 L866.4,737.7 L868.2,737.8 L869.9,738.0 L871.7,738.1 L873.4,738.2 L875.1,738.3 L876.9,738.5 L878.6,738.6 L880.4,738.8 L882.1,738.9 L883.9,739.1 L885.6,739.2 L887.3,739.4 L889.1,739.5 L890.8,739.7 L892.6,739.8 L894.3,740.0 L896.0,740.2 L897.8,740.3 L899.5,740.5 L901.3,740.7 L903.0,740.9 L904.7,741.1 L906.5,741.3 L908.2,741.5 L910.0,741.7 L911.7,742.0 L913.4,742.2 L915.2,742.5 L916.9,742.7 L918.7,743.0 L920.4,743.3 L922.2,743.5 L923.9,743.8 L925.6,744.1 L927.4,744.4 L929.1,744.6 L930.9,744.9 L932.6,745.2" fill="none" stroke="#b5384a" stroke-width="0.9"/>
<path d="M516.5,662.2 L518.2,662.5 L520.0,662.8 L521.7,663.1 L523.5,663.4 L525.2,663.7 L526.9,664.0 L528.7,664.3 L530.4,664.6 L532.2,664.9 L533.9,665.2 L535.7,665.4 L537.4,665.7 L539.1,665.9 L540.9,666.2 L542.6,666.4 L544.4,666.6 L546.1,666.8 L547.8,667.0 L549.6,667.2 L551.3,667.3 L553.1,667.5 L554.8,667.7 L556.5,667.8 L558.3,668.0 L560.0,668.2 L561.8,668.4 L563.5,668.6 L565.2,668.8 L567.0,669.0 L568.7,669.2 L570.5,669.4 L572.2,669.6 L574.0,669.8 L575.7,670.1 L577.4,670.3 L579.2,670.5 L580.9,670.7 L582.7,670.9 L584.4,671.1 L586.1,671.3 L587.9,671.5 L589.6,671.8 L591.4,672.0 L593.1,672.2 L594.8,672.4 L596.6,672.6 L598.3,672.8 L600.1,673.0 L601.8,673.3 L603.6,673.5 L605.3,673.7 L607.0,673.9 L608.8,674.1 L610.5,674.3 L612.3,674.5 L614.0,674.8 L615.7,675.0 L617.5,675.2 L619.2,675.4 L621.0,675.6 L622.7,675.8 L624.4,676.0 L626.2,676.3 L627.9,676.5 L629.7,676.6 L631.4,676.8 L633.1,677.0 L634.9,677.2 L636.6,677.4 L638.4,677.5 L640.1,677.7 L641.9,677.8 L643.6,678.0 L645.3,678.2 L647.1,678.3 L648.8,678.5 L650.6,678.6 L652.3,678.8 L654.0,679.0 L655.8,679.2 L657.5,679.4 L659.3,679.6 L661.0,679.8 L662.7,680.0 L664.5,680.2 L666.2,680.4 L668.0,680.7 L669.7,680.9 L671.4,681.1 L673.2,681.3 L674.9,681.5 L676.7,681.7 L678.4,682.0 L680.2,682.2 L681.9,682.4 L683.6,682.6 L685.4,682.8 L687.1,683.0 L688.9,683.2 L690.6,683.4 L692.3,683.7 L694.1,683.9 L695.8,684.1 L697.6,684.3 L699.3,684.5 L701.0,684.7 L702.8,684.9 L704.5,685.1 L706.3,685.4 L708.0,685.6 L709.8,685.8 L711.5,686.0 L713.2,686.2 L715.0,686.4 L716.7,686.7 L718.5,686.9 L720.2,687.1 L721.9,687.3 L723.7,687.5 L725.4,687.7 L727.2,687.9 L728.9,688.1 L730.6,688.3 L732.4,688.5 L734.1,688.7 L735.9,689.0 L737.6,689.2 L739.3,689.4 L741.1,689.7 L742.8,690.0 L744.6,690.3 L746.3,690.5 L748.1,690.8 L749.8,691.2 L751.5,691.5 L753.3,691.8 L755.0,692.1 L756.8,692.4 L758.5,692.7 L760.2,693.0 L762.0,693.3 L763.7,693.6 L765.5,693.9 L767.2,694.2 L768.9,694.4 L770.7,694.7 L772.4,694.9 L774.2,695.2 L775.9,695.4 L777.7,695.7 L779.4,695.9 L781.1,696.2 L782.9,696.4 L784.6,696.7 L786.4,697.0 L788.1,697.3 L789.8,697.6 L791.6,697.9 L793.3,698.3 L795.1,698.7 L796.8,699.0 L798.5,699.5 L800.3,699.9 L802.0,700.4 L803.8,700.8 L805.5,701.3 L807.2,701.8 L809.0,702.4 L810.7,702.9 L812.5,703.5 L814.2,704.0 L816.0,704.6 L817.7,705.2 L819.4,705.8 L821.2,706.3 L822.9,706.9 L824.7,707.5 L826.4,708.1 L828.1,708.6 L829.9,709.2 L831.6,709.7 L833.4,710.3 L835.1,710.9 L836.8,711.4 L838.6,712.0 L840.3,712.6 L842.1,713.1 L843.8,713.7 L845.5,714.2 L847.3,714.8 L849.0,715.3 L850.8,715.8 L852.5,716.3 L854.3,716.9 L856.0,717.4 L857.7,717.9 L859.5,718.5 L861.2,719.0 L863.0,719.6 L864.7,720.2 L866.4,720.8 L868.2,721.4 L869.9,722.1 L871.7,722.7 L873.4,723.3 L875.1,724.0 L876.9,724.6 L878.6,725.2 L880.4,725.9 L882.1,726.5 L883.9,727.1 L885.6,727.7 L887.3,728.3 L889.1,728.9 L890.8,729.5 L892.6,730.2 L894.3,730.8 L896.0,731.4 L897.8,732.1 L899.5,732.7 L901.3,733.4 L903.0,734.0 L904.7,734.7 L906.5,735.3 L908.2,735.9 L910.0,736.5 L911.7,737.2 L913.4,737.8 L915.2,738.4 L916.9,739.0 L918.7,739.7 L920.4,740.3 L922.2,741.0 L923.9,741.6 L925.6,742.3 L927.4,743.0 L929.1,743.7 L930.9,744.5 L932.6,745.2" fill="none" stroke="#b5384a" stroke-width="0.9"/>
<path d="M516.5,592.5 L518.2,592.9 L520.0,593.3 L521.7,593.7 L523.5,594.0 L525.2,594.3 L526.9,594.5 L528.7,594.8 L530.4,595.0 L532.2,595.2 L533.9,595.4 L535.7,595.6 L537.4,595.8 L539.1,596.0 L540.9,596.1 L542.6,596.3 L544.4,596.5 L546.1,596.7 L547.8,596.9 L549.6,597.1 L551.3,597.3 L553.1,597.5 L554.8,597.8 L556.5,598.0 L558.3,598.2 L560.0,598.5 L561.8,598.7 L563.5,599.0 L565.2,599.2 L567.0,599.5 L568.7,599.8 L570.5,600.1 L572.2,600.3 L574.0,600.6 L575.7,600.9 L577.4,601.2 L579.2,601.5 L580.9,601.8 L582.7,602.1 L584.4,602.4 L586.1,602.8 L587.9,603.1 L589.6,603.4 L591.4,603.7 L593.1,604.0 L594.8,604.3 L596.6,604.6 L598.3,605.0 L600.1,605.3 L601.8,605.6 L603.6,605.9 L605.3,606.1 L607.0,606.4 L608.8,606.7 L610.5,607.0 L612.3,607.3 L614.0,607.6 L615.7,607.8 L617.5,608.1 L619.2,608.4 L621.0,608.7 L622.7,609.0 L624.4,609.3 L626.2,609.6 L627.9,609.9 L629.7,610.2 L631.4,610.5 L633.1,610.9 L634.9,611.2 L636.6,611.6 L638.4,611.9 L640.1,612.3 L641.9,612.6 L643.6,612.9 L645.3,613.3 L647.1,613.6 L648.8,614.0 L650.6,614.3 L652.3,614.6 L654.0,615.0 L655.8,615.3 L657.5,615.7 L659.3,616.0 L661.0,616.3 L662.7,616.7 L664.5,617.0 L666.2,617.4 L668.0,617.7 L669.7,618.0 L671.4,618.3 L673.2,618.7 L674.9,619.0 L676.7,619.3 L678.4,619.7 L680.2,620.0 L681.9,620.4 L683.6,620.8 L685.4,621.2 L687.1,621.6 L688.9,622.0 L690.6,622.4 L692.3,622.9 L694.1,623.3 L695.8,623.7 L697.6,624.2 L699.3,624.6 L701.0,625.1 L702.8,625.5 L704.5,625.9 L706.3,626.4 L708.0,626.8 L709.8,627.2 L711.5,627.6 L713.2,628.0 L715.0,628.4 L716.7,628.8 L718.5,629.2 L720.2,629.6 L721.9,630.0 L723.7,630.5 L725.4,630.9 L727.2,631.4 L728.9,631.9 L730.6,632.4 L732.4,632.9 L734.1,633.4 L735.9,634.0 L737.6,634.5 L739.3,635.1 L741.1,635.7 L742.8,636.3 L744.6,636.9 L746.3,637.5 L748.1,638.1 L749.8,638.7 L751.5,639.2 L753.3,639.8 L755.0,640.4 L756.8,641.0 L758.5,641.6 L760.2,642.2 L762.0,642.8 L763.7,643.4 L765.5,644.0 L767.2,644.7 L768.9,645.4 L770.7,646.1 L772.4,646.8 L774.2,647.5 L775.9,648.2 L777.7,649.0 L779.4,649.7 L781.1,650.5 L782.9,651.2 L784.6,652.0 L786.4,652.7 L788.1,653.5 L789.8,654.3 L791.6,655.0 L793.3,655.8 L795.1,656.6 L796.8,657.4 L798.5,658.3 L800.3,659.1 L802.0,660.0 L803.8,660.8 L805.5,661.7 L807.2,662.6 L809.0,663.5 L810.7,664.5 L812.5,665.4 L814.2,666.4 L816.0,667.4 L817.7,668.4 L819.4,669.3 L821.2,670.3 L822.9,671.3 L824.7,672.3 L826.4,673.3 L828.1,674.3 L829.9,675.3 L831.6,676.3 L833.4,677.3 L835.1,678.3 L836.8,679.3 L838.6,680.3 L840.3,681.3 L842.1,682.3 L843.8,683.4 L845.5,684.4 L847.3,685.5 L849.0,686.6 L850.8,687.7 L852.5,688.8 L854.3,689.9 L856.0,691.0 L857.7,692.1 L859.5,693.2 L861.2,694.3 L863.0,695.4 L864.7,696.5 L866.4,697.6 L868.2,698.7 L869.9,699.8 L871.7,700.9 L873.4,702.0 L875.1,703.1 L876.9,704.3 L878.6,705.6 L880.4,706.8 L882.1,708.1 L883.9,709.5 L885.6,710.8 L887.3,712.2 L889.1,713.5 L890.8,714.9 L892.6,716.2 L894.3,717.5 L896.0,718.8 L897.8,720.1 L899.5,721.4 L901.3,722.7 L903.0,724.0 L904.7,725.2 L906.5,726.5 L908.2,727.7 L910.0,728.9 L911.7,730.2 L913.4,731.4 L915.2,732.6 L916.9,733.8 L918.7,735.1 L920.4,736.3 L922.2,737.5 L923.9,738.8 L925.6,740.0 L927.4,741.3 L929.1,742.6 L930.9,743.9 L932.6,745.2" fill="none" stroke="#b5384a" stroke-width="0.9"/>
<path d="M516.5,519.1 L518.2,519.4 L520.0,519.7 L521.7,520.0 L523.5,520.4 L525.2,520.7 L526.9,521.1 L528.7,521.5 L530.4,521.9 L532.2,522.3 L533.9,522.7 L535.7,523.1 L537.4,523.5 L539.1,523.9 L540.9,524.3 L542.6,524.7 L544.4,525.1 L546.1,525.5 L547.8,525.9 L549.6,526.2 L551.3,526.6 L553.1,526.9 L554.8,527.2 L556.5,527.6 L558.3,527.9 L560.0,528.3 L561.8,528.6 L563.5,529.0 L565.2,529.3 L567.0,529.7 L568.7,530.0 L570.5,530.4 L572.2,530.7 L574.0,531.1 L575.7,531.4 L577.4,531.8 L579.2,532.1 L580.9,532.5 L582.7,532.8 L584.4,533.2 L586.1,533.6 L587.9,533.9 L589.6,534.3 L591.4,534.7 L593.1,535.1 L594.8,535.5 L596.6,535.9 L598.3,536.4 L600.1,536.8 L601.8,537.2 L603.6,537.6 L605.3,538.1 L607.0,538.5 L608.8,538.9 L610.5,539.3 L612.3,539.7 L614.0,540.1 L615.7,540.4 L617.5,540.8 L619.2,541.1 L621.0,541.5 L622.7,541.8 L624.4,542.2 L626.2,542.5 L627.9,542.9 L629.7,543.3 L631.4,543.7 L633.1,544.2 L634.9,544.6 L636.6,545.1 L638.4,545.5 L640.1,546.0 L641.9,546.4 L643.6,546.9 L645.3,547.3 L647.1,547.8 L648.8,548.3 L650.6,548.7 L652.3,549.2 L654.0,549.7 L655.8,550.2 L657.5,550.7 L659.3,551.2 L661.0,551.7 L662.7,552.2 L664.5,552.7 L666.2,553.2 L668.0,553.7 L669.7,554.2 L671.4,554.6 L673.2,555.1 L674.9,555.6 L676.7,556.0 L678.4,556.5 L680.2,557.0 L681.9,557.5 L683.6,558.0 L685.4,558.6 L687.1,559.1 L688.9,559.7 L690.6,560.3 L692.3,560.9 L694.1,561.5 L695.8,562.1 L697.6,562.8 L699.3,563.4 L701.0,564.1 L702.8,564.7 L704.5,565.4 L706.3,566.1 L708.0,566.8 L709.8,567.6 L711.5,568.4 L713.2,569.2 L715.0,570.0 L716.7,570.8 L718.5,571.6 L720.2,572.4 L721.9,573.2 L723.7,574.0 L725.4,574.8 L727.2,575.5 L728.9,576.2 L730.6,577.0 L732.4,577.7 L734.1,578.4 L735.9,579.2 L737.6,580.0 L739.3,580.9 L741.1,581.8 L742.8,582.7 L744.6,583.7 L746.3,584.7 L748.1,585.7 L749.8,586.6 L751.5,587.6 L753.3,588.5 L755.0,589.4 L756.8,590.3 L758.5,591.2 L760.2,592.1 L762.0,593.0 L763.7,593.9 L765.5,594.9 L767.2,595.9 L768.9,597.0 L770.7,598.2 L772.4,599.4 L774.2,600.6 L775.9,601.8 L777.7,603.0 L779.4,604.3 L781.1,605.5 L782.9,606.6 L784.6,607.8 L786.4,609.0 L788.1,610.1 L789.8,611.3 L791.6,612.4 L793.3,613.6 L795.1,614.8 L796.8,616.0 L798.5,617.2 L800.3,618.5 L802.0,619.7 L803.8,621.0 L805.5,622.3 L807.2,623.6 L809.0,624.9 L810.7,626.3 L812.5,627.6 L814.2,629.0 L816.0,630.4 L817.7,631.8 L819.4,633.2 L821.2,634.6 L822.9,636.1 L824.7,637.5 L826.4,639.0 L828.1,640.5 L829.9,642.0 L831.6,643.5 L833.4,645.0 L835.1,646.5 L836.8,648.1 L838.6,649.6 L840.3,651.1 L842.1,652.6 L843.8,654.1 L845.5,655.6 L847.3,657.2 L849.0,658.8 L850.8,660.4 L852.5,662.0 L854.3,663.7 L856.0,665.4 L857.7,667.1 L859.5,668.8 L861.2,670.5 L863.0,672.2 L864.7,673.9 L866.4,675.7 L868.2,677.4 L869.9,679.2 L871.7,680.9 L873.4,682.7 L875.1,684.4 L876.9,686.2 L878.6,687.9 L880.4,689.7 L882.1,691.4 L883.9,693.2 L885.6,695.0 L887.3,696.8 L889.1,698.6 L890.8,700.4 L892.6,702.3 L894.3,704.1 L896.0,706.0 L897.8,707.8 L899.5,709.7 L901.3,711.6 L903.0,713.4 L904.7,715.3 L906.5,717.1 L908.2,718.9 L910.0,720.8 L911.7,722.6 L913.4,724.4 L915.2,726.2 L916.9,728.0 L918.7,729.8 L920.4,731.7 L922.2,733.5 L923.9,735.4 L925.6,737.3 L927.4,739.2 L929.1,741.2 L930.9,743.2 L932.6,745.2" fill="none" stroke="#b5384a" stroke-width="0.9"/>
<path d="M516.5,463.3 L518.2,463.7 L520.0,464.0 L521.7,464.4 L523.5,464.8 L525.2,465.2 L526.9,465.5 L528.7,465.9 L530.4,466.3 L532.2,466.7 L533.9,467.1 L535.7,467.4 L537.4,467.8 L539.1,468.2 L540.9,468.5 L542.6,468.8 L544.4,469.1 L546.1,469.4 L547.8,469.7 L549.6,469.9 L551.3,470.2 L553.1,470.4 L554.8,470.7 L556.5,471.0 L558.3,471.2 L560.0,471.5 L561.8,471.8 L563.5,472.1 L565.2,472.4 L567.0,472.7 L568.7,473.1 L570.5,473.4 L572.2,473.7 L574.0,474.1 L575.7,474.5 L577.4,474.8 L579.2,475.2 L580.9,475.5 L582.7,475.9 L584.4,476.2 L586.1,476.6 L587.9,476.9 L589.6,477.2 L591.4,477.5 L593.1,477.8 L594.8,478.2 L596.6,478.5 L598.3,478.8 L600.1,479.2 L601.8,479.5 L603.6,479.9 L605.3,480.3 L607.0,480.7 L608.8,481.1 L610.5,481.5 L612.3,482.0 L614.0,482.4 L615.7,482.9 L617.5,483.3 L619.2,483.8 L621.0,484.2 L622.7,484.7 L624.4,485.2 L626.2,485.7 L627.9,486.1 L629.7,486.6 L631.4,487.1 L633.1,487.6 L634.9,488.1 L636.6,488.6 L638.4,489.1 L640.1,489.6 L641.9,490.2 L643.6,490.7 L645.3,491.3 L647.1,491.9 L648.8,492.5 L650.6,493.2 L652.3,493.8 L654.0,494.5 L655.8,495.1 L657.5,495.8 L659.3,496.5 L661.0,497.2 L662.7,497.9 L664.5,498.6 L666.2,499.3 L668.0,500.0 L669.7,500.8 L671.4,501.5 L673.2,502.3 L674.9,503.1 L676.7,503.9 L678.4,504.7 L680.2,505.5 L681.9,506.2 L683.6,507.0 L685.4,507.7 L687.1,508.5 L688.9,509.2 L690.6,509.9 L692.3,510.7 L694.1,511.4 L695.8,512.2 L697.6,512.9 L699.3,513.7 L701.0,514.5 L702.8,515.3 L704.5,516.2 L706.3,517.0 L708.0,517.9 L709.8,518.8 L711.5,519.7 L713.2,520.7 L715.0,521.6 L716.7,522.5 L718.5,523.5 L720.2,524.5 L721.9,525.5 L723.7,526.5 L725.4,527.5 L727.2,528.5 L728.9,529.6 L730.6,530.6 L732.4,531.6 L734.1,532.7 L735.9,533.7 L737.6,534.8 L739.3,535.9 L741.1,536.9 L742.8,538.0 L744.6,539.1 L746.3,540.2 L748.1,541.3 L749.8,542.5 L751.5,543.7 L753.3,544.9 L755.0,546.2 L756.8,547.5 L758.5,548.8 L760.2,550.1 L762.0,551.5 L763.7,552.8 L765.5,554.2 L767.2,555.5 L768.9,556.8 L770.7,558.2 L772.4,559.5 L774.2,560.9 L775.9,562.3 L777.7,563.6 L779.4,565.1 L781.1,566.5 L782.9,568.0 L784.6,569.5 L786.4,571.1 L788.1,572.6 L789.8,574.2 L791.6,575.8 L793.3,577.4 L795.1,579.0 L796.8,580.5 L798.5,582.1 L800.3,583.7 L802.0,585.3 L803.8,586.9 L805.5,588.6 L807.2,590.2 L809.0,591.9 L810.7,593.6 L812.5,595.3 L814.2,597.0 L816.0,598.8 L817.7,600.5 L819.4,602.3 L821.2,604.0 L822.9,605.8 L824.7,607.6 L826.4,609.3 L828.1,611.1 L829.9,612.9 L831.6,614.8 L833.4,616.6 L835.1,618.5 L836.8,620.5 L838.6,622.5 L840.3,624.6 L842.1,626.6 L843.8,628.7 L845.5,630.8 L847.3,632.9 L849.0,635.0 L850.8,637.1 L852.5,639.1 L854.3,641.1 L856.0,643.2 L857.7,645.2 L859.5,647.3 L861.2,649.4 L863.0,651.4 L864.7,653.6 L866.4,655.7 L868.2,657.9 L869.9,660.1 L871.7,662.3 L873.4,664.6 L875.1,666.8 L876.9,669.1 L878.6,671.4 L880.4,673.6 L882.1,675.9 L883.9,678.2 L885.6,680.5 L887.3,682.8 L889.1,685.1 L890.8,687.5 L892.6,689.8 L894.3,692.1 L896.0,694.5 L897.8,696.8 L899.5,699.2 L901.3,701.6 L903.0,703.9 L904.7,706.3 L906.5,708.7 L908.2,711.2 L910.0,713.6 L911.7,716.0 L913.4,718.5 L915.2,720.9 L916.9,723.4 L918.7,725.8 L920.4,728.3 L922.2,730.7 L923.9,733.1 L925.6,735.6 L927.4,738.0 L929.1,740.4 L930.9,742.8 L932.6,745.2" fill="none" stroke="#b5384a" stroke-width="0.9"/>
<path d="M516.5,735.6 L521.0,740.1 L516.5,744.6 L512.0,740.1 Z" fill="#ee1414" stroke="#c40a0a" stroke-width="0.5"/>
<path d="M530.4,735.9 L534.9,740.4 L530.4,744.9 L525.9,740.4 Z" fill="#ee1414" stroke="#c40a0a" stroke-width="0.5"/>
<path d="M544.2,736.2 L548.7,740.7 L544.2,745.2 L539.7,740.7 Z" fill="#ee1414" stroke="#c40a0a" stroke-width="0.5"/>
<path d="M558.1,736.5 L562.6,741.0 L558.1,745.5 L553.6,741.0 Z" fill="#ee1414" stroke="#c40a0a" stroke-width="0.5"/>
<path d="M572.0,736.9 L576.5,741.4 L572.0,745.9 L567.5,741.4 Z" fill="#ee1414" stroke="#c40a0a" stroke-width="0.5"/>
<path d="M585.9,737.1 L590.4,741.6 L585.9,746.1 L581.4,741.6 Z" fill="#ee1414" stroke="#c40a0a" stroke-width="0.5"/>
<path d="M599.7,737.3 L604.2,741.8 L599.7,746.3 L595.2,741.8 Z" fill="#ee1414" stroke="#c40a0a" stroke-width="0.5"/>
<path d="M613.6,737.6 L618.1,742.1 L613.6,746.6 L609.1,742.1 Z" fill="#ee1414" stroke="#c40a0a" stroke-width="0.5"/>
<path d="M627.5,737.9 L632.0,742.4 L627.5,746.9 L623.0,742.4 Z" fill="#ee1414" stroke="#c40a0a" stroke-width="0.5"/>
<path d="M641.3,738.1 L645.8,742.6 L641.3,747.1 L636.8,742.6 Z" fill="#ee1414" stroke="#c40a0a" stroke-width="0.5"/>
<path d="M655.2,738.3 L659.7,742.8 L655.2,747.3 L650.7,742.8 Z" fill="#ee1414" stroke="#c40a0a" stroke-width="0.5"/>
<path d="M669.1,738.5 L673.6,743.0 L669.1,747.5 L664.6,743.0 Z" fill="#ee1414" stroke="#c40a0a" stroke-width="0.5"/>
<path d="M682.9,738.6 L687.4,743.1 L682.9,747.6 L678.4,743.1 Z" fill="#ee1414" stroke="#c40a0a" stroke-width="0.5"/>
<path d="M696.8,738.8 L701.3,743.3 L696.8,747.8 L692.3,743.3 Z" fill="#ee1414" stroke="#c40a0a" stroke-width="0.5"/>
<path d="M710.7,739.0 L715.2,743.5 L710.7,748.0 L706.2,743.5 Z" fill="#ee1414" stroke="#c40a0a" stroke-width="0.5"/>
<path d="M724.6,739.1 L729.1,743.6 L724.6,748.1 L720.1,743.6 Z" fill="#ee1414" stroke="#c40a0a" stroke-width="0.5"/>
<path d="M738.4,739.3 L742.9,743.8 L738.4,748.3 L733.9,743.8 Z" fill="#ee1414" stroke="#c40a0a" stroke-width="0.5"/>
<path d="M752.3,739.5 L756.8,744.0 L752.3,748.5 L747.8,744.0 Z" fill="#ee1414" stroke="#c40a0a" stroke-width="0.5"/>
<path d="M766.2,739.6 L770.7,744.1 L766.2,748.6 L761.7,744.1 Z" fill="#ee1414" stroke="#c40a0a" stroke-width="0.5"/>
<path d="M780.0,739.6 L784.5,744.1 L780.0,748.6 L775.5,744.1 Z" fill="#ee1414" stroke="#c40a0a" stroke-width="0.5"/>
<path d="M793.9,739.6 L798.4,744.1 L793.9,748.6 L789.4,744.1 Z" fill="#ee1414" stroke="#c40a0a" stroke-width="0.5"/>
<path d="M807.8,739.8 L812.3,744.3 L807.8,748.8 L803.3,744.3 Z" fill="#ee1414" stroke="#c40a0a" stroke-width="0.5"/>
<path d="M821.6,740.0 L826.1,744.5 L821.6,749.0 L817.1,744.5 Z" fill="#ee1414" stroke="#c40a0a" stroke-width="0.5"/>
<path d="M835.5,740.1 L840.0,744.6 L835.5,749.1 L831.0,744.6 Z" fill="#ee1414" stroke="#c40a0a" stroke-width="0.5"/>
<path d="M849.4,740.2 L853.9,744.7 L849.4,749.2 L844.9,744.7 Z" fill="#ee1414" stroke="#c40a0a" stroke-width="0.5"/>
<path d="M863.2,740.3 L867.8,744.8 L863.2,749.3 L858.8,744.8 Z" fill="#ee1414" stroke="#c40a0a" stroke-width="0.5"/>
<path d="M877.1,740.4 L881.6,744.9 L877.1,749.4 L872.6,744.9 Z" fill="#ee1414" stroke="#c40a0a" stroke-width="0.5"/>
<path d="M891.0,740.5 L895.5,745.0 L891.0,749.5 L886.5,745.0 Z" fill="#ee1414" stroke="#c40a0a" stroke-width="0.5"/>
<path d="M904.9,740.6 L909.4,745.1 L904.9,749.6 L900.4,745.1 Z" fill="#ee1414" stroke="#c40a0a" stroke-width="0.5"/>
<path d="M918.7,740.6 L923.2,745.1 L918.7,749.6 L914.2,745.1 Z" fill="#ee1414" stroke="#c40a0a" stroke-width="0.5"/>
<path d="M932.6,740.7 L937.1,745.2 L932.6,749.7 L928.1,745.2 Z" fill="#ee1414" stroke="#c40a0a" stroke-width="0.5"/>
<path d="M516.5,713.6 L521.0,718.1 L516.5,722.6 L512.0,718.1 Z" fill="#ee1414" stroke="#c40a0a" stroke-width="0.5"/>
<path d="M530.4,714.4 L534.9,718.9 L530.4,723.4 L525.9,718.9 Z" fill="#ee1414" stroke="#c40a0a" stroke-width="0.5"/>
<path d="M544.2,715.3 L548.7,719.8 L544.2,724.3 L539.7,719.8 Z" fill="#ee1414" stroke="#c40a0a" stroke-width="0.5"/>
<path d="M558.1,716.1 L562.6,720.6 L558.1,725.1 L553.6,720.6 Z" fill="#ee1414" stroke="#c40a0a" stroke-width="0.5"/>
<path d="M572.0,717.0 L576.5,721.5 L572.0,726.0 L567.5,721.5 Z" fill="#ee1414" stroke="#c40a0a" stroke-width="0.5"/>
<path d="M585.9,717.8 L590.4,722.3 L585.9,726.8 L581.4,722.3 Z" fill="#ee1414" stroke="#c40a0a" stroke-width="0.5"/>
<path d="M599.7,718.7 L604.2,723.2 L599.7,727.7 L595.2,723.2 Z" fill="#ee1414" stroke="#c40a0a" stroke-width="0.5"/>
<path d="M613.6,719.5 L618.1,724.0 L613.6,728.5 L609.1,724.0 Z" fill="#ee1414" stroke="#c40a0a" stroke-width="0.5"/>
<path d="M627.5,720.3 L632.0,724.8 L627.5,729.3 L623.0,724.8 Z" fill="#ee1414" stroke="#c40a0a" stroke-width="0.5"/>
<path d="M641.3,720.9 L645.8,725.4 L641.3,729.9 L636.8,725.4 Z" fill="#ee1414" stroke="#c40a0a" stroke-width="0.5"/>
<path d="M655.2,721.4 L659.7,725.9 L655.2,730.4 L650.7,725.9 Z" fill="#ee1414" stroke="#c40a0a" stroke-width="0.5"/>
<path d="M669.1,722.0 L673.6,726.5 L669.1,731.0 L664.6,726.5 Z" fill="#ee1414" stroke="#c40a0a" stroke-width="0.5"/>
<path d="M682.9,722.7 L687.4,727.2 L682.9,731.7 L678.4,727.2 Z" fill="#ee1414" stroke="#c40a0a" stroke-width="0.5"/>
<path d="M696.8,723.2 L701.3,727.7 L696.8,732.2 L692.3,727.7 Z" fill="#ee1414" stroke="#c40a0a" stroke-width="0.5"/>
<path d="M710.7,723.7 L715.2,728.2 L710.7,732.7 L706.2,728.2 Z" fill="#ee1414" stroke="#c40a0a" stroke-width="0.5"/>
<path d="M724.6,724.4 L729.1,728.9 L724.6,733.4 L720.1,728.9 Z" fill="#ee1414" stroke="#c40a0a" stroke-width="0.5"/>
<path d="M738.4,725.1 L742.9,729.6 L738.4,734.1 L733.9,729.6 Z" fill="#ee1414" stroke="#c40a0a" stroke-width="0.5"/>
<path d="M752.3,725.7 L756.8,730.2 L752.3,734.7 L747.8,730.2 Z" fill="#ee1414" stroke="#c40a0a" stroke-width="0.5"/>
<path d="M766.2,726.4 L770.7,730.9 L766.2,735.4 L761.7,730.9 Z" fill="#ee1414" stroke="#c40a0a" stroke-width="0.5"/>
<path d="M780.0,727.2 L784.5,731.7 L780.0,736.2 L775.5,731.7 Z" fill="#ee1414" stroke="#c40a0a" stroke-width="0.5"/>
<path d="M793.9,728.1 L798.4,732.6 L793.9,737.1 L789.4,732.6 Z" fill="#ee1414" stroke="#c40a0a" stroke-width="0.5"/>
<path d="M807.8,728.8 L812.3,733.3 L807.8,737.8 L803.3,733.3 Z" fill="#ee1414" stroke="#c40a0a" stroke-width="0.5"/>
<path d="M821.6,729.5 L826.1,734.0 L821.6,738.5 L817.1,734.0 Z" fill="#ee1414" stroke="#c40a0a" stroke-width="0.5"/>
<path d="M835.5,730.7 L840.0,735.2 L835.5,739.7 L831.0,735.2 Z" fill="#ee1414" stroke="#c40a0a" stroke-width="0.5"/>
<path d="M849.4,732.0 L853.9,736.5 L849.4,741.0 L844.9,736.5 Z" fill="#ee1414" stroke="#c40a0a" stroke-width="0.5"/>
<path d="M863.2,733.0 L867.8,737.5 L863.2,742.0 L858.8,737.5 Z" fill="#ee1414" stroke="#c40a0a" stroke-width="0.5"/>
<path d="M877.1,734.0 L881.6,738.5 L877.1,743.0 L872.6,738.5 Z" fill="#ee1414" stroke="#c40a0a" stroke-width="0.5"/>
<path d="M891.0,735.2 L895.5,739.7 L891.0,744.2 L886.5,739.7 Z" fill="#ee1414" stroke="#c40a0a" stroke-width="0.5"/>
<path d="M904.9,736.6 L909.4,741.1 L904.9,745.6 L900.4,741.1 Z" fill="#ee1414" stroke="#c40a0a" stroke-width="0.5"/>
<path d="M918.7,738.5 L923.2,743.0 L918.7,747.5 L914.2,743.0 Z" fill="#ee1414" stroke="#c40a0a" stroke-width="0.5"/>
<path d="M932.6,740.7 L937.1,745.2 L932.6,749.7 L928.1,745.2 Z" fill="#ee1414" stroke="#c40a0a" stroke-width="0.5"/>
<path d="M516.5,657.7 L521.0,662.2 L516.5,666.7 L512.0,662.2 Z" fill="#ee1414" stroke="#c40a0a" stroke-width="0.5"/>
<path d="M530.4,660.1 L534.9,664.6 L530.4,669.1 L525.9,664.6 Z" fill="#ee1414" stroke="#c40a0a" stroke-width="0.5"/>
<path d="M544.2,662.1 L548.7,666.6 L544.2,671.1 L539.7,666.6 Z" fill="#ee1414" stroke="#c40a0a" stroke-width="0.5"/>
<path d="M558.1,663.5 L562.6,668.0 L558.1,672.5 L553.6,668.0 Z" fill="#ee1414" stroke="#c40a0a" stroke-width="0.5"/>
<path d="M572.0,665.1 L576.5,669.6 L572.0,674.1 L567.5,669.6 Z" fill="#ee1414" stroke="#c40a0a" stroke-width="0.5"/>
<path d="M585.9,666.8 L590.4,671.3 L585.9,675.8 L581.4,671.3 Z" fill="#ee1414" stroke="#c40a0a" stroke-width="0.5"/>
<path d="M599.7,668.5 L604.2,673.0 L599.7,677.5 L595.2,673.0 Z" fill="#ee1414" stroke="#c40a0a" stroke-width="0.5"/>
<path d="M613.6,670.2 L618.1,674.7 L613.6,679.2 L609.1,674.7 Z" fill="#ee1414" stroke="#c40a0a" stroke-width="0.5"/>
<path d="M627.5,671.9 L632.0,676.4 L627.5,680.9 L623.0,676.4 Z" fill="#ee1414" stroke="#c40a0a" stroke-width="0.5"/>
<path d="M641.3,673.3 L645.8,677.8 L641.3,682.3 L636.8,677.8 Z" fill="#ee1414" stroke="#c40a0a" stroke-width="0.5"/>
<path d="M655.2,674.6 L659.7,679.1 L655.2,683.6 L650.7,679.1 Z" fill="#ee1414" stroke="#c40a0a" stroke-width="0.5"/>
<path d="M669.1,676.3 L673.6,680.8 L669.1,685.3 L664.6,680.8 Z" fill="#ee1414" stroke="#c40a0a" stroke-width="0.5"/>
<path d="M682.9,678.0 L687.4,682.5 L682.9,687.0 L678.4,682.5 Z" fill="#ee1414" stroke="#c40a0a" stroke-width="0.5"/>
<path d="M696.8,679.7 L701.3,684.2 L696.8,688.7 L692.3,684.2 Z" fill="#ee1414" stroke="#c40a0a" stroke-width="0.5"/>
<path d="M710.7,681.4 L715.2,685.9 L710.7,690.4 L706.2,685.9 Z" fill="#ee1414" stroke="#c40a0a" stroke-width="0.5"/>
<path d="M724.6,683.1 L729.1,687.6 L724.6,692.1 L720.1,687.6 Z" fill="#ee1414" stroke="#c40a0a" stroke-width="0.5"/>
<path d="M738.4,684.8 L742.9,689.3 L738.4,693.8 L733.9,689.3 Z" fill="#ee1414" stroke="#c40a0a" stroke-width="0.5"/>
<path d="M752.3,687.1 L756.8,691.6 L752.3,696.1 L747.8,691.6 Z" fill="#ee1414" stroke="#c40a0a" stroke-width="0.5"/>
<path d="M766.2,689.5 L770.7,694.0 L766.2,698.5 L761.7,694.0 Z" fill="#ee1414" stroke="#c40a0a" stroke-width="0.5"/>
<path d="M780.0,691.5 L784.5,696.0 L780.0,700.5 L775.5,696.0 Z" fill="#ee1414" stroke="#c40a0a" stroke-width="0.5"/>
<path d="M793.9,693.9 L798.4,698.4 L793.9,702.9 L789.4,698.4 Z" fill="#ee1414" stroke="#c40a0a" stroke-width="0.5"/>
<path d="M807.8,697.5 L812.3,702.0 L807.8,706.5 L803.3,702.0 Z" fill="#ee1414" stroke="#c40a0a" stroke-width="0.5"/>
<path d="M821.6,702.0 L826.1,706.5 L821.6,711.0 L817.1,706.5 Z" fill="#ee1414" stroke="#c40a0a" stroke-width="0.5"/>
<path d="M835.5,706.5 L840.0,711.0 L835.5,715.5 L831.0,711.0 Z" fill="#ee1414" stroke="#c40a0a" stroke-width="0.5"/>
<path d="M849.4,710.9 L853.9,715.4 L849.4,719.9 L844.9,715.4 Z" fill="#ee1414" stroke="#c40a0a" stroke-width="0.5"/>
<path d="M863.2,715.2 L867.8,719.7 L863.2,724.2 L858.8,719.7 Z" fill="#ee1414" stroke="#c40a0a" stroke-width="0.5"/>
<path d="M877.1,720.2 L881.6,724.7 L877.1,729.2 L872.6,724.7 Z" fill="#ee1414" stroke="#c40a0a" stroke-width="0.5"/>
<path d="M891.0,725.1 L895.5,729.6 L891.0,734.1 L886.5,729.6 Z" fill="#ee1414" stroke="#c40a0a" stroke-width="0.5"/>
<path d="M904.9,730.2 L909.4,734.7 L904.9,739.2 L900.4,734.7 Z" fill="#ee1414" stroke="#c40a0a" stroke-width="0.5"/>
<path d="M918.7,735.2 L923.2,739.7 L918.7,744.2 L914.2,739.7 Z" fill="#ee1414" stroke="#c40a0a" stroke-width="0.5"/>
<path d="M932.6,740.7 L937.1,745.2 L932.6,749.7 L928.1,745.2 Z" fill="#ee1414" stroke="#c40a0a" stroke-width="0.5"/>
<path d="M516.5,588.0 L521.0,592.5 L516.5,597.0 L512.0,592.5 Z" fill="#ee1414" stroke="#c40a0a" stroke-width="0.5"/>
<path d="M530.4,590.5 L534.9,595.0 L530.4,599.5 L525.9,595.0 Z" fill="#ee1414" stroke="#c40a0a" stroke-width="0.5"/>
<path d="M544.2,592.0 L548.7,596.5 L544.2,601.0 L539.7,596.5 Z" fill="#ee1414" stroke="#c40a0a" stroke-width="0.5"/>
<path d="M558.1,593.7 L562.6,598.2 L558.1,602.7 L553.6,598.2 Z" fill="#ee1414" stroke="#c40a0a" stroke-width="0.5"/>
<path d="M572.0,595.8 L576.5,600.3 L572.0,604.8 L567.5,600.3 Z" fill="#ee1414" stroke="#c40a0a" stroke-width="0.5"/>
<path d="M585.9,598.2 L590.4,602.7 L585.9,607.2 L581.4,602.7 Z" fill="#ee1414" stroke="#c40a0a" stroke-width="0.5"/>
<path d="M599.7,600.7 L604.2,605.2 L599.7,609.7 L595.2,605.2 Z" fill="#ee1414" stroke="#c40a0a" stroke-width="0.5"/>
<path d="M613.6,603.0 L618.1,607.5 L613.6,612.0 L609.1,607.5 Z" fill="#ee1414" stroke="#c40a0a" stroke-width="0.5"/>
<path d="M627.5,605.3 L632.0,609.8 L627.5,614.3 L623.0,609.8 Z" fill="#ee1414" stroke="#c40a0a" stroke-width="0.5"/>
<path d="M641.3,608.0 L645.8,612.5 L641.3,617.0 L636.8,612.5 Z" fill="#ee1414" stroke="#c40a0a" stroke-width="0.5"/>
<path d="M655.2,610.7 L659.7,615.2 L655.2,619.7 L650.7,615.2 Z" fill="#ee1414" stroke="#c40a0a" stroke-width="0.5"/>
<path d="M669.1,613.4 L673.6,617.9 L669.1,622.4 L664.6,617.9 Z" fill="#ee1414" stroke="#c40a0a" stroke-width="0.5"/>
<path d="M682.9,616.1 L687.4,620.6 L682.9,625.1 L678.4,620.6 Z" fill="#ee1414" stroke="#c40a0a" stroke-width="0.5"/>
<path d="M696.8,619.5 L701.3,624.0 L696.8,628.5 L692.3,624.0 Z" fill="#ee1414" stroke="#c40a0a" stroke-width="0.5"/>
<path d="M710.7,622.9 L715.2,627.4 L710.7,631.9 L706.2,627.4 Z" fill="#ee1414" stroke="#c40a0a" stroke-width="0.5"/>
<path d="M724.6,626.2 L729.1,630.7 L724.6,635.2 L720.1,630.7 Z" fill="#ee1414" stroke="#c40a0a" stroke-width="0.5"/>
<path d="M738.4,630.3 L742.9,634.8 L738.4,639.3 L733.9,634.8 Z" fill="#ee1414" stroke="#c40a0a" stroke-width="0.5"/>
<path d="M752.3,635.0 L756.8,639.5 L752.3,644.0 L747.8,639.5 Z" fill="#ee1414" stroke="#c40a0a" stroke-width="0.5"/>
<path d="M766.2,639.8 L770.7,644.3 L766.2,648.8 L761.7,644.3 Z" fill="#ee1414" stroke="#c40a0a" stroke-width="0.5"/>
<path d="M780.0,645.5 L784.5,650.0 L780.0,654.5 L775.5,650.0 Z" fill="#ee1414" stroke="#c40a0a" stroke-width="0.5"/>
<path d="M793.9,651.6 L798.4,656.1 L793.9,660.6 L789.4,656.1 Z" fill="#ee1414" stroke="#c40a0a" stroke-width="0.5"/>
<path d="M807.8,658.4 L812.3,662.9 L807.8,667.4 L803.3,662.9 Z" fill="#ee1414" stroke="#c40a0a" stroke-width="0.5"/>
<path d="M821.6,666.1 L826.1,670.6 L821.6,675.1 L817.1,670.6 Z" fill="#ee1414" stroke="#c40a0a" stroke-width="0.5"/>
<path d="M835.5,674.0 L840.0,678.5 L835.5,683.0 L831.0,678.5 Z" fill="#ee1414" stroke="#c40a0a" stroke-width="0.5"/>
<path d="M849.4,682.3 L853.9,686.8 L849.4,691.3 L844.9,686.8 Z" fill="#ee1414" stroke="#c40a0a" stroke-width="0.5"/>
<path d="M863.2,691.1 L867.8,695.6 L863.2,700.1 L858.8,695.6 Z" fill="#ee1414" stroke="#c40a0a" stroke-width="0.5"/>
<path d="M877.1,700.0 L881.6,704.5 L877.1,709.0 L872.6,704.5 Z" fill="#ee1414" stroke="#c40a0a" stroke-width="0.5"/>
<path d="M891.0,710.5 L895.5,715.0 L891.0,719.5 L886.5,715.0 Z" fill="#ee1414" stroke="#c40a0a" stroke-width="0.5"/>
<path d="M904.9,720.8 L909.4,725.3 L904.9,729.8 L900.4,725.3 Z" fill="#ee1414" stroke="#c40a0a" stroke-width="0.5"/>
<path d="M918.7,730.6 L923.2,735.1 L918.7,739.6 L914.2,735.1 Z" fill="#ee1414" stroke="#c40a0a" stroke-width="0.5"/>
<path d="M932.6,740.7 L937.1,745.2 L932.6,749.7 L928.1,745.2 Z" fill="#ee1414" stroke="#c40a0a" stroke-width="0.5"/>
<path d="M516.5,514.6 L521.0,519.1 L516.5,523.6 L512.0,519.1 Z" fill="#ee1414" stroke="#c40a0a" stroke-width="0.5"/>
<path d="M530.4,517.4 L534.9,521.9 L530.4,526.4 L525.9,521.9 Z" fill="#ee1414" stroke="#c40a0a" stroke-width="0.5"/>
<path d="M544.2,520.6 L548.7,525.1 L544.2,529.6 L539.7,525.1 Z" fill="#ee1414" stroke="#c40a0a" stroke-width="0.5"/>
<path d="M558.1,523.4 L562.6,527.9 L558.1,532.4 L553.6,527.9 Z" fill="#ee1414" stroke="#c40a0a" stroke-width="0.5"/>
<path d="M572.0,526.2 L576.5,530.7 L572.0,535.2 L567.5,530.7 Z" fill="#ee1414" stroke="#c40a0a" stroke-width="0.5"/>
<path d="M585.9,529.0 L590.4,533.5 L585.9,538.0 L581.4,533.5 Z" fill="#ee1414" stroke="#c40a0a" stroke-width="0.5"/>
<path d="M599.7,532.2 L604.2,536.7 L599.7,541.2 L595.2,536.7 Z" fill="#ee1414" stroke="#c40a0a" stroke-width="0.5"/>
<path d="M613.6,535.5 L618.1,540.0 L613.6,544.5 L609.1,540.0 Z" fill="#ee1414" stroke="#c40a0a" stroke-width="0.5"/>
<path d="M627.5,538.3 L632.0,542.8 L627.5,547.3 L623.0,542.8 Z" fill="#ee1414" stroke="#c40a0a" stroke-width="0.5"/>
<path d="M641.3,541.8 L645.8,546.3 L641.3,550.8 L636.8,546.3 Z" fill="#ee1414" stroke="#c40a0a" stroke-width="0.5"/>
<path d="M655.2,545.5 L659.7,550.0 L655.2,554.5 L650.7,550.0 Z" fill="#ee1414" stroke="#c40a0a" stroke-width="0.5"/>
<path d="M669.1,549.5 L673.6,554.0 L669.1,558.5 L664.6,554.0 Z" fill="#ee1414" stroke="#c40a0a" stroke-width="0.5"/>
<path d="M682.9,553.3 L687.4,557.8 L682.9,562.3 L678.4,557.8 Z" fill="#ee1414" stroke="#c40a0a" stroke-width="0.5"/>
<path d="M696.8,558.0 L701.3,562.5 L696.8,567.0 L692.3,562.5 Z" fill="#ee1414" stroke="#c40a0a" stroke-width="0.5"/>
<path d="M710.7,563.5 L715.2,568.0 L710.7,572.5 L706.2,568.0 Z" fill="#ee1414" stroke="#c40a0a" stroke-width="0.5"/>
<path d="M724.6,569.9 L729.1,574.4 L724.6,578.9 L720.1,574.4 Z" fill="#ee1414" stroke="#c40a0a" stroke-width="0.5"/>
<path d="M738.4,575.9 L742.9,580.4 L738.4,584.9 L733.9,580.4 Z" fill="#ee1414" stroke="#c40a0a" stroke-width="0.5"/>
<path d="M752.3,583.5 L756.8,588.0 L752.3,592.5 L747.8,588.0 Z" fill="#ee1414" stroke="#c40a0a" stroke-width="0.5"/>
<path d="M766.2,590.8 L770.7,595.3 L766.2,599.8 L761.7,595.3 Z" fill="#ee1414" stroke="#c40a0a" stroke-width="0.5"/>
<path d="M780.0,600.2 L784.5,604.7 L780.0,609.2 L775.5,604.7 Z" fill="#ee1414" stroke="#c40a0a" stroke-width="0.5"/>
<path d="M793.9,609.5 L798.4,614.0 L793.9,618.5 L789.4,614.0 Z" fill="#ee1414" stroke="#c40a0a" stroke-width="0.5"/>
<path d="M807.8,619.5 L812.3,624.0 L807.8,628.5 L803.3,624.0 Z" fill="#ee1414" stroke="#c40a0a" stroke-width="0.5"/>
<path d="M821.6,630.5 L826.1,635.0 L821.6,639.5 L817.1,635.0 Z" fill="#ee1414" stroke="#c40a0a" stroke-width="0.5"/>
<path d="M835.5,642.4 L840.0,646.9 L835.5,651.4 L831.0,646.9 Z" fill="#ee1414" stroke="#c40a0a" stroke-width="0.5"/>
<path d="M849.4,654.6 L853.9,659.1 L849.4,663.6 L844.9,659.1 Z" fill="#ee1414" stroke="#c40a0a" stroke-width="0.5"/>
<path d="M863.2,668.0 L867.8,672.5 L863.2,677.0 L858.8,672.5 Z" fill="#ee1414" stroke="#c40a0a" stroke-width="0.5"/>
<path d="M877.1,681.9 L881.6,686.4 L877.1,690.9 L872.6,686.4 Z" fill="#ee1414" stroke="#c40a0a" stroke-width="0.5"/>
<path d="M891.0,696.1 L895.5,700.6 L891.0,705.1 L886.5,700.6 Z" fill="#ee1414" stroke="#c40a0a" stroke-width="0.5"/>
<path d="M904.9,710.9 L909.4,715.4 L904.9,719.9 L900.4,715.4 Z" fill="#ee1414" stroke="#c40a0a" stroke-width="0.5"/>
<path d="M918.7,725.4 L923.2,729.9 L918.7,734.4 L914.2,729.9 Z" fill="#ee1414" stroke="#c40a0a" stroke-width="0.5"/>
<path d="M932.6,740.7 L937.1,745.2 L932.6,749.7 L928.1,745.2 Z" fill="#ee1414" stroke="#c40a0a" stroke-width="0.5"/>
<path d="M516.5,458.8 L521.0,463.3 L516.5,467.8 L512.0,463.3 Z" fill="#ee1414" stroke="#c40a0a" stroke-width="0.5"/>
<path d="M530.4,461.8 L534.9,466.3 L530.4,470.8 L525.9,466.3 Z" fill="#ee1414" stroke="#c40a0a" stroke-width="0.5"/>
<path d="M544.2,464.6 L548.7,469.1 L544.2,473.6 L539.7,469.1 Z" fill="#ee1414" stroke="#c40a0a" stroke-width="0.5"/>
<path d="M558.1,466.7 L562.6,471.2 L558.1,475.7 L553.6,471.2 Z" fill="#ee1414" stroke="#c40a0a" stroke-width="0.5"/>
<path d="M572.0,469.2 L576.5,473.7 L572.0,478.2 L567.5,473.7 Z" fill="#ee1414" stroke="#c40a0a" stroke-width="0.5"/>
<path d="M585.9,472.0 L590.4,476.5 L585.9,481.0 L581.4,476.5 Z" fill="#ee1414" stroke="#c40a0a" stroke-width="0.5"/>
<path d="M599.7,474.6 L604.2,479.1 L599.7,483.6 L595.2,479.1 Z" fill="#ee1414" stroke="#c40a0a" stroke-width="0.5"/>
<path d="M613.6,477.8 L618.1,482.3 L613.6,486.8 L609.1,482.3 Z" fill="#ee1414" stroke="#c40a0a" stroke-width="0.5"/>
<path d="M627.5,481.5 L632.0,486.0 L627.5,490.5 L623.0,486.0 Z" fill="#ee1414" stroke="#c40a0a" stroke-width="0.5"/>
<path d="M641.3,485.5 L645.8,490.0 L641.3,494.5 L636.8,490.0 Z" fill="#ee1414" stroke="#c40a0a" stroke-width="0.5"/>
<path d="M655.2,490.4 L659.7,494.9 L655.2,499.4 L650.7,494.9 Z" fill="#ee1414" stroke="#c40a0a" stroke-width="0.5"/>
<path d="M669.1,496.0 L673.6,500.5 L669.1,505.0 L664.6,500.5 Z" fill="#ee1414" stroke="#c40a0a" stroke-width="0.5"/>
<path d="M682.9,502.2 L687.4,506.7 L682.9,511.2 L678.4,506.7 Z" fill="#ee1414" stroke="#c40a0a" stroke-width="0.5"/>
<path d="M696.8,508.1 L701.3,512.6 L696.8,517.1 L692.3,512.6 Z" fill="#ee1414" stroke="#c40a0a" stroke-width="0.5"/>
<path d="M710.7,514.8 L715.2,519.3 L710.7,523.8 L706.2,519.3 Z" fill="#ee1414" stroke="#c40a0a" stroke-width="0.5"/>
<path d="M724.6,522.5 L729.1,527.0 L724.6,531.5 L720.1,527.0 Z" fill="#ee1414" stroke="#c40a0a" stroke-width="0.5"/>
<path d="M738.4,530.8 L742.9,535.3 L738.4,539.8 L733.9,535.3 Z" fill="#ee1414" stroke="#c40a0a" stroke-width="0.5"/>
<path d="M752.3,539.7 L756.8,544.2 L752.3,548.7 L747.8,544.2 Z" fill="#ee1414" stroke="#c40a0a" stroke-width="0.5"/>
<path d="M766.2,550.2 L770.7,554.7 L766.2,559.2 L761.7,554.7 Z" fill="#ee1414" stroke="#c40a0a" stroke-width="0.5"/>
<path d="M780.0,561.1 L784.5,565.6 L780.0,570.1 L775.5,565.6 Z" fill="#ee1414" stroke="#c40a0a" stroke-width="0.5"/>
<path d="M793.9,573.4 L798.4,577.9 L793.9,582.4 L789.4,577.9 Z" fill="#ee1414" stroke="#c40a0a" stroke-width="0.5"/>
<path d="M807.8,586.2 L812.3,590.7 L807.8,595.2 L803.3,590.7 Z" fill="#ee1414" stroke="#c40a0a" stroke-width="0.5"/>
<path d="M821.6,600.0 L826.1,604.5 L821.6,609.0 L817.1,604.5 Z" fill="#ee1414" stroke="#c40a0a" stroke-width="0.5"/>
<path d="M835.5,614.5 L840.0,619.0 L835.5,623.5 L831.0,619.0 Z" fill="#ee1414" stroke="#c40a0a" stroke-width="0.5"/>
<path d="M849.4,630.9 L853.9,635.4 L849.4,639.9 L844.9,635.4 Z" fill="#ee1414" stroke="#c40a0a" stroke-width="0.5"/>
<path d="M863.2,647.3 L867.8,651.8 L863.2,656.3 L858.8,651.8 Z" fill="#ee1414" stroke="#c40a0a" stroke-width="0.5"/>
<path d="M877.1,664.9 L881.6,669.4 L877.1,673.9 L872.6,669.4 Z" fill="#ee1414" stroke="#c40a0a" stroke-width="0.5"/>
<path d="M891.0,683.2 L895.5,687.7 L891.0,692.2 L886.5,687.7 Z" fill="#ee1414" stroke="#c40a0a" stroke-width="0.5"/>
<path d="M904.9,702.0 L909.4,706.5 L904.9,711.0 L900.4,706.5 Z" fill="#ee1414" stroke="#c40a0a" stroke-width="0.5"/>
<path d="M918.7,721.4 L923.2,725.9 L918.7,730.4 L914.2,725.9 Z" fill="#ee1414" stroke="#c40a0a" stroke-width="0.5"/>
<path d="M932.6,740.7 L937.1,745.2 L932.6,749.7 L928.1,745.2 Z" fill="#ee1414" stroke="#c40a0a" stroke-width="0.5"/>
</g>
<rect x="516.5" y="417.7" width="416.1" height="334.50000000000006" fill="none" stroke="#262626" stroke-width="1.45"/>
<line x1="551.18" y1="752.20" x2="551.18" y2="748.70" stroke="#262626" stroke-width="1.2" />
<line x1="551.18" y1="417.70" x2="551.18" y2="421.20" stroke="#262626" stroke-width="1.2" />
<line x1="585.85" y1="752.20" x2="585.85" y2="745.90" stroke="#262626" stroke-width="1.2" />
<line x1="585.85" y1="417.70" x2="585.85" y2="424.00" stroke="#262626" stroke-width="1.2" />
<line x1="620.53" y1="752.20" x2="620.53" y2="748.70" stroke="#262626" stroke-width="1.2" />
<line x1="620.53" y1="417.70" x2="620.53" y2="421.20" stroke="#262626" stroke-width="1.2" />
<line x1="655.20" y1="752.20" x2="655.20" y2="745.90" stroke="#262626" stroke-width="1.2" />
<line x1="655.20" y1="417.70" x2="655.20" y2="424.00" stroke="#262626" stroke-width="1.2" />
<line x1="689.88" y1="752.20" x2="689.88" y2="748.70" stroke="#262626" stroke-width="1.2" />
<line x1="689.88" y1="417.70" x2="689.88" y2="421.20" stroke="#262626" stroke-width="1.2" />
<line x1="724.55" y1="752.20" x2="724.55" y2="745.90" stroke="#262626" stroke-width="1.2" />
<line x1="724.55" y1="417.70" x2="724.55" y2="424.00" stroke="#262626" stroke-width="1.2" />
<line x1="759.23" y1="752.20" x2="759.23" y2="748.70" stroke="#262626" stroke-width="1.2" />
<line x1="759.23" y1="417.70" x2="759.23" y2="421.20" stroke="#262626" stroke-width="1.2" />
<line x1="793.90" y1="752.20" x2="793.90" y2="745.90" stroke="#262626" stroke-width="1.2" />
<line x1="793.90" y1="417.70" x2="793.90" y2="424.00" stroke="#262626" stroke-width="1.2" />
<line x1="828.58" y1="752.20" x2="828.58" y2="748.70" stroke="#262626" stroke-width="1.2" />
<line x1="828.58" y1="417.70" x2="828.58" y2="421.20" stroke="#262626" stroke-width="1.2" />
<line x1="863.25" y1="752.20" x2="863.25" y2="745.90" stroke="#262626" stroke-width="1.2" />
<line x1="863.25" y1="417.70" x2="863.25" y2="424.00" stroke="#262626" stroke-width="1.2" />
<line x1="897.93" y1="752.20" x2="897.93" y2="748.70" stroke="#262626" stroke-width="1.2" />
<line x1="897.93" y1="417.70" x2="897.93" y2="421.20" stroke="#262626" stroke-width="1.2" />
<line x1="516.50" y1="745.20" x2="522.80" y2="745.20" stroke="#262626" stroke-width="1.2" />
<line x1="932.60" y1="745.20" x2="926.30" y2="745.20" stroke="#262626" stroke-width="1.2" />
<line x1="516.50" y1="708.75" x2="520.00" y2="708.75" stroke="#262626" stroke-width="1.2" />
<line x1="932.60" y1="708.75" x2="929.10" y2="708.75" stroke="#262626" stroke-width="1.2" />
<line x1="516.50" y1="672.30" x2="522.80" y2="672.30" stroke="#262626" stroke-width="1.2" />
<line x1="932.60" y1="672.30" x2="926.30" y2="672.30" stroke="#262626" stroke-width="1.2" />
<line x1="516.50" y1="635.85" x2="520.00" y2="635.85" stroke="#262626" stroke-width="1.2" />
<line x1="932.60" y1="635.85" x2="929.10" y2="635.85" stroke="#262626" stroke-width="1.2" />
<line x1="516.50" y1="599.40" x2="522.80" y2="599.40" stroke="#262626" stroke-width="1.2" />
<line x1="932.60" y1="599.40" x2="926.30" y2="599.40" stroke="#262626" stroke-width="1.2" />
<line x1="516.50" y1="562.95" x2="520.00" y2="562.95" stroke="#262626" stroke-width="1.2" />
<line x1="932.60" y1="562.95" x2="929.10" y2="562.95" stroke="#262626" stroke-width="1.2" />
<line x1="516.50" y1="526.50" x2="522.80" y2="526.50" stroke="#262626" stroke-width="1.2" />
<line x1="932.60" y1="526.50" x2="926.30" y2="526.50" stroke="#262626" stroke-width="1.2" />
<line x1="516.50" y1="490.05" x2="520.00" y2="490.05" stroke="#262626" stroke-width="1.2" />
<line x1="932.60" y1="490.05" x2="929.10" y2="490.05" stroke="#262626" stroke-width="1.2" />
<line x1="516.50" y1="453.60" x2="522.80" y2="453.60" stroke="#262626" stroke-width="1.2" />
<line x1="932.60" y1="453.60" x2="926.30" y2="453.60" stroke="#262626" stroke-width="1.2" />
<text x="507.60" y="754.10" font-size="27.2" text-anchor="end" fill="#000" transform="matrix(1 0 0 1.04 0 -30.164)" >0</text>
<text x="507.60" y="681.20" font-size="27.2" text-anchor="end" fill="#000" transform="matrix(1 0 0 1.04 0 -27.248)" >100</text>
<text x="507.60" y="608.30" font-size="27.2" text-anchor="end" fill="#000" transform="matrix(1 0 0 1.04 0 -24.332)" >200</text>
<text x="507.60" y="535.40" font-size="27.2" text-anchor="end" fill="#000" transform="matrix(1 0 0 1.04 0 -21.416)" >300</text>
<text x="507.60" y="462.50" font-size="27.2" text-anchor="end" fill="#000" transform="matrix(1 0 0 1.04 0 -18.500)" >400</text>
<text x="511.10" y="782.60" font-size="27.2" text-anchor="middle" fill="#000" transform="matrix(1 0 0 1.04 0 -31.304)" >–3.0</text>
<text x="582.60" y="782.60" font-size="27.2" text-anchor="middle" fill="#000" transform="matrix(1 0 0 1.04 0 -31.304)" >–2.5</text>
<text x="652.20" y="782.60" font-size="27.2" text-anchor="middle" fill="#000" transform="matrix(1 0 0 1.04 0 -31.304)" >–2.0</text>
<text x="721.40" y="782.60" font-size="27.2" text-anchor="middle" fill="#000" transform="matrix(1 0 0 1.04 0 -31.304)" >–1.5</text>
<text x="791.00" y="782.60" font-size="27.2" text-anchor="middle" fill="#000" transform="matrix(1 0 0 1.04 0 -31.304)" >–1.0</text>
<text x="860.30" y="782.60" font-size="27.2" text-anchor="middle" fill="#000" transform="matrix(1 0 0 1.04 0 -31.304)" >–0.5</text>
<text x="927.80" y="782.60" font-size="27.2" text-anchor="middle" fill="#000" transform="matrix(1 0 0 1.04 0 -31.304)" >0.0</text>
<text x="687.5" y="822.6" font-size="26.5"><tspan font-style="italic">V</tspan><tspan font-size="19" dy="6.7">ds</tspan><tspan dy="-6.7"> (V)</tspan></text>
<text transform="translate(440.2,662.3) rotate(-90)" x="0" y="0" font-size="27.5"><tspan font-style="italic">I</tspan><tspan font-size="19.5" dy="7.1">ds</tspan><tspan dy="-7.1" dx="-1"> (µA µm</tspan><tspan font-size="19" dy="-11">–1</tspan><tspan dy="11">)</tspan></text>
<text x="657.7" y="458" font-size="20.6"><tspan font-style="italic">V</tspan><tspan font-size="14" dy="7.6">gs</tspan><tspan dy="-7.6"> : 0 to –10 V ; step = –2 V</tspan></text>
<text x="755.6" y="502.7" font-size="19.3"><tspan font-style="italic">L</tspan><tspan font-size="13" dy="7.3">ch</tspan><tspan dy="-7.3"> = 400 nm</tspan></text>
</g>
</svg></body></html>
